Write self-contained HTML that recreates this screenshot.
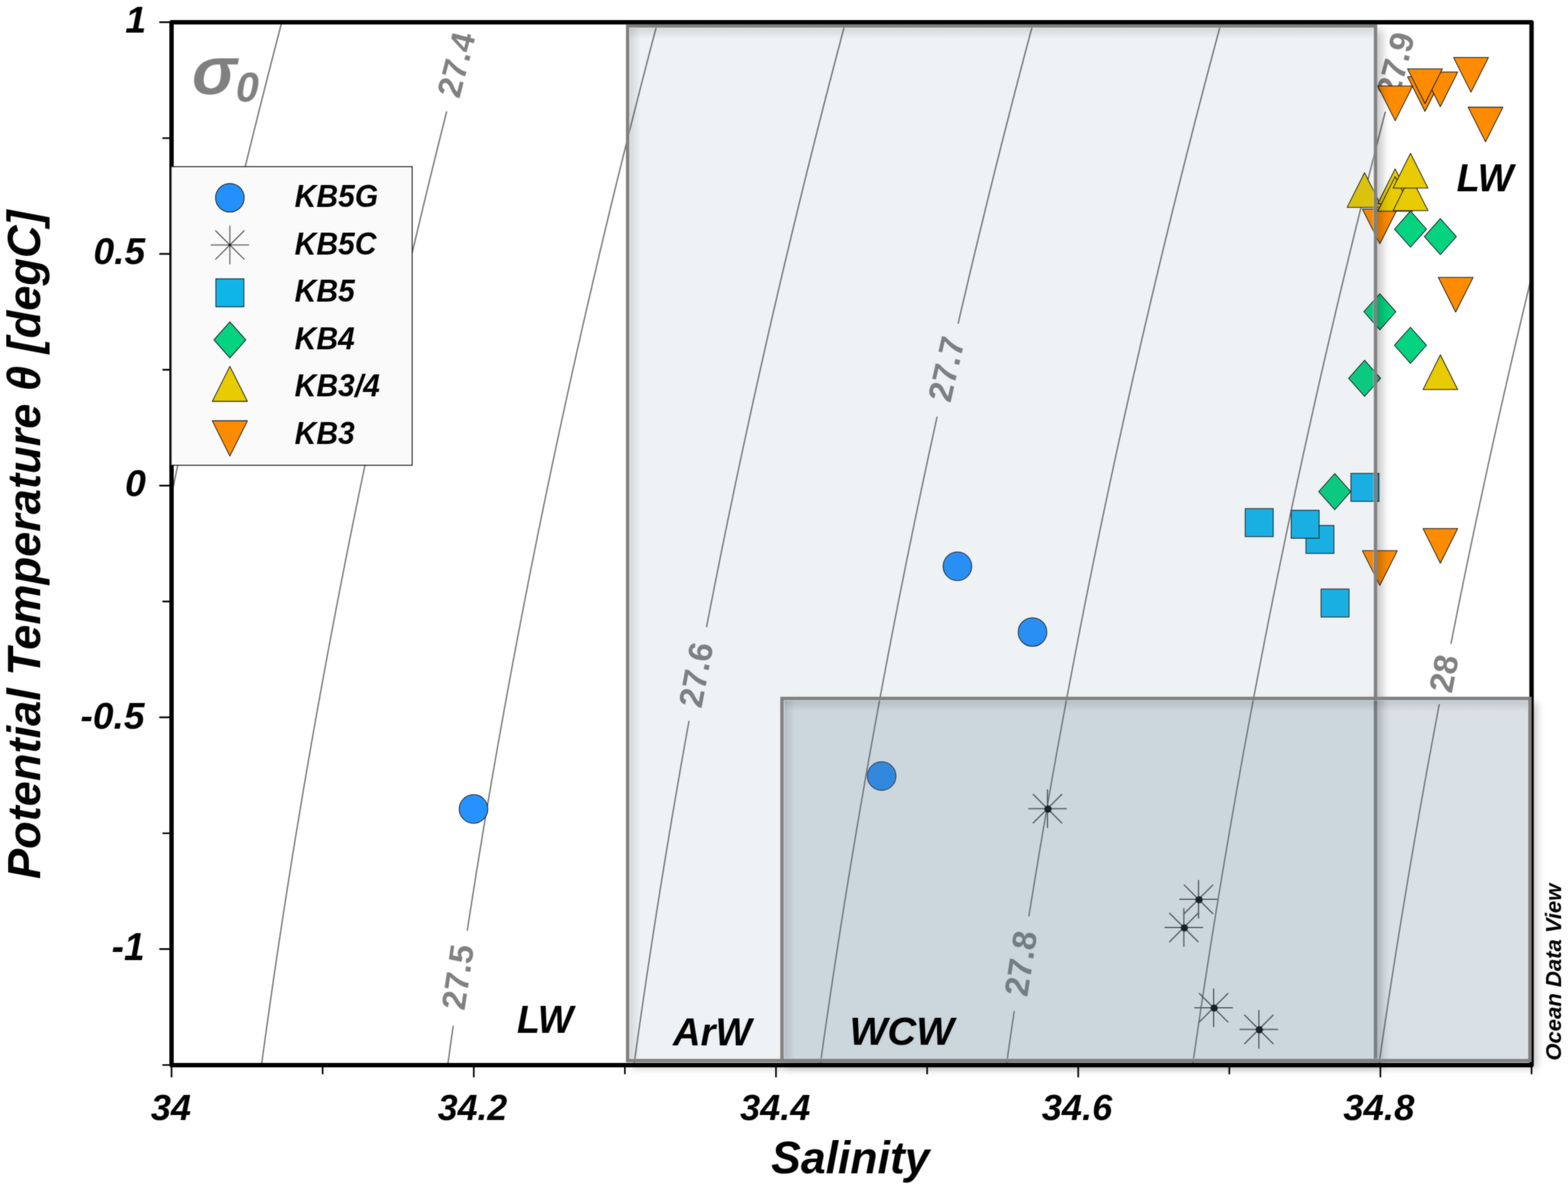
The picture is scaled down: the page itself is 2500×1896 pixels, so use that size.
<!DOCTYPE html>
<html><head><meta charset="utf-8"><title>Potential temperature vs salinity diagram</title>
<style>
html,body{margin:0;padding:0;background:#fff;width:2500px;height:1896px;overflow:hidden}
svg{position:absolute;left:0;top:0;display:block}
text{font-family:"Liberation Sans",Arial,Helvetica,sans-serif}
</style></head><body>
<svg width="2500" height="1896" viewBox="0 0 2500 1896" xmlns="http://www.w3.org/2000/svg">
<defs>
<clipPath id="plot"><rect x="273.5" y="35.4" width="2168.4" height="1663.1"/></clipPath>
<filter id="sblur" x="-20%" y="-20%" width="140%" height="140%"><feGaussianBlur stdDeviation="6.5"/></filter>
<linearGradient id="inL" x1="0" y1="0" x2="1" y2="0"><stop offset="0" stop-color="#000" stop-opacity="0.11"/><stop offset="0.45" stop-color="#000" stop-opacity="0.06"/><stop offset="1" stop-color="#000" stop-opacity="0"/></linearGradient>
<linearGradient id="inT" x1="0" y1="0" x2="0" y2="1"><stop offset="0" stop-color="#000" stop-opacity="0.11"/><stop offset="0.45" stop-color="#000" stop-opacity="0.06"/><stop offset="1" stop-color="#000" stop-opacity="0"/></linearGradient>

<mask id="mA" maskUnits="userSpaceOnUse" x="0" y="0" width="2500" height="1896"><rect x="0" y="0" width="2500" height="1896" fill="#fff"/><rect x="998.0" y="38.8" width="1197.8" height="1655.1" fill="#000"/></mask>
<mask id="mW" maskUnits="userSpaceOnUse" x="0" y="0" width="2500" height="1896"><rect x="0" y="0" width="2500" height="1896" fill="#fff"/><rect x="1244.1" y="1111.1" width="1197.9" height="582.8" fill="#000"/></mask>
<filter id="soft" x="0" y="0" width="2500" height="1896" filterUnits="userSpaceOnUse" color-interpolation-filters="sRGB"><feGaussianBlur in="SourceGraphic" stdDeviation="0.8" result="b"/><feComposite in="SourceGraphic" in2="b" operator="arithmetic" k1="0" k2="0.5" k3="0.5" k4="0"/></filter>
</defs>
<g filter="url(#soft)">
<rect x="0" y="0" width="2500" height="1896" fill="#fff"/>
<g clip-path="url(#plot)" fill="none" stroke="#767676" stroke-width="2.2">
<path d="M450.8,29.4 L450.0,32.4 L449.2,35.4 L448.5,38.4 L447.7,41.4 L446.9,44.4 L446.1,47.4 L445.3,50.4 L444.5,53.4 L443.8,56.4 L443.0,59.4 L442.2,62.4 L441.4,65.4 L440.7,68.4 L439.9,71.4 L439.1,74.4 L438.3,77.4 L437.5,80.4 L436.8,83.4 L436.0,86.4 L435.2,89.4 L434.5,92.4 L433.7,95.4 L432.9,98.4 L432.1,101.4 L431.4,104.4 L430.6,107.4 L429.8,110.4 L429.1,113.4 L428.3,116.4 L427.5,119.4 L426.8,122.4 L426.0,125.4 L425.2,128.4 L424.5,131.4 L423.7,134.4 L423.0,137.4 L422.2,140.4 L421.4,143.4 L420.7,146.4 L419.9,149.4 L419.2,152.4 L418.4,155.4 L417.6,158.4 L416.9,161.4 L416.1,164.4 L415.4,167.4 L414.6,170.4 L413.9,173.4 L413.1,176.4 L412.4,179.4 L411.6,182.4 L410.9,185.4 L410.1,188.4 L409.4,191.4 L408.6,194.4 L407.9,197.4 L407.1,200.4 L406.4,203.4 L405.6,206.4 L404.9,209.4 L404.1,212.4 L403.4,215.4 L402.6,218.4 L401.9,221.4 L401.2,224.4 L400.4,227.4 L399.7,230.4 L398.9,233.4 L398.2,236.4 L397.5,239.4 L396.7,242.4 L396.0,245.4 L395.2,248.4 L394.5,251.4 L393.8,254.4 L393.0,257.4 L392.3,260.4 L391.6,263.4 L390.8,266.4 L390.1,269.4 L389.4,272.4 L388.6,275.4 L387.9,278.4 L387.2,281.4 L386.5,284.4 L385.7,287.4 L385.0,290.4 L384.3,293.4 L383.6,296.4 L382.8,299.4 L382.1,302.4 L381.4,305.4 L380.7,308.4 L379.9,311.4 L379.2,314.4 L378.5,317.4 L377.8,320.4 L377.1,323.4 L376.3,326.4 L375.6,329.4 L374.9,332.4 L374.2,335.4 L373.5,338.4 L372.8,341.4 L372.0,344.4 L371.3,347.4 L370.6,350.4 L369.9,353.4 L369.2,356.4 L368.5,359.4 L367.8,362.4 L367.1,365.4 L366.3,368.4 L365.6,371.4 L364.9,374.4 L364.2,377.4 L363.5,380.4 L362.8,383.4 L362.1,386.4 L361.4,389.4 L360.7,392.4 L360.0,395.4 L359.3,398.4 L358.6,401.4 L357.9,404.4 L357.2,407.4 L356.5,410.4 L355.8,413.4 L355.1,416.4 L354.4,419.4 L353.7,422.4 L353.0,425.4 L352.3,428.4 L351.6,431.4 L350.9,434.4 L350.2,437.4 L349.5,440.4 L348.8,443.4 L348.1,446.4 L347.4,449.4 L346.8,452.4 L346.1,455.4 L345.4,458.4 L344.7,461.4 L344.0,464.4 L343.3,467.4 L342.6,470.4 L341.9,473.4 L341.3,476.4 L340.6,479.4 L339.9,482.4 L339.2,485.4 L338.5,488.4 L337.8,491.4 L337.2,494.4 L336.5,497.4 L335.8,500.4 L335.1,503.4 L334.5,506.4 L333.8,509.4 L333.1,512.4 L332.4,515.4 L331.7,518.4 L331.1,521.4 L330.4,524.4 L329.7,527.4 L329.1,530.4 L328.4,533.4 L327.7,536.4 L327.0,539.4 L326.4,542.4 L325.7,545.4 L325.0,548.4 L324.4,551.4 L323.7,554.4 L323.0,557.4 L322.4,560.4 L321.7,563.4 L321.0,566.4 L320.4,569.4 L319.7,572.4 L319.0,575.4 L318.4,578.4 L317.7,581.4 L317.1,584.4 L316.4,587.4 L315.7,590.4 L315.1,593.4 L314.4,596.4 L313.8,599.4 L313.1,602.4 L312.5,605.4 L311.8,608.4 L311.2,611.4 L310.5,614.4 L309.9,617.4 L309.2,620.4 L308.5,623.4 L307.9,626.4 L307.2,629.4 L306.6,632.4 L306.0,635.4 L305.3,638.4 L304.7,641.4 L304.0,644.4 L303.4,647.4 L302.7,650.4 L302.1,653.4 L301.4,656.4 L300.8,659.4 L300.1,662.4 L299.5,665.4 L298.9,668.4 L298.2,671.4 L297.6,674.4 L296.9,677.4 L296.3,680.4 L295.7,683.4 L295.0,686.4 L294.4,689.4 L293.8,692.4 L293.1,695.4 L292.5,698.4 L291.9,701.4 L291.2,704.4 L290.6,707.4 L290.0,710.4 L289.3,713.4 L288.7,716.4 L288.1,719.4 L287.4,722.4 L286.8,725.4 L286.2,728.4 L285.6,731.4 L284.9,734.4 L284.3,737.4 L283.7,740.4 L283.1,743.4 L282.4,746.4 L281.8,749.4 L281.2,752.4 L280.6,755.4 L280.0,758.4 L279.3,761.4 L278.7,764.4 L278.1,767.4 L277.5,770.4 L276.9,773.4 L276.3,776.4 L275.6,779.4 L275.0,782.4 L274.4,785.4 L273.8,788.4 L273.2,791.4 L272.6,794.4 L272.0,797.4 L271.4,800.4 L270.7,803.4 L270.1,806.4 L269.5,809.4 L268.9,812.4 L268.3,815.4 L267.7,818.4 L267.1,821.4 L266.5,824.4 L265.9,827.4 L265.3,830.4 L264.7,833.4 L264.1,836.4 L263.5,839.4 L262.9,842.4 L262.3,845.4 L261.7,848.4 L261.1,851.4 L260.5,854.4 L259.9,857.4 L259.3,860.4 L258.7,863.4 L258.1,866.4 L257.5,869.4 L256.9,872.4 L256.3,875.4 L255.7,878.4 L255.1,881.4 L254.5,884.4 L254.0,887.4 L253.4,890.4 L252.8,893.4 L252.2,896.4 L251.6,899.4 L251.0,902.4 L250.4,905.4 L249.8,908.4 L249.3,911.4 L248.7,914.4 L248.1,917.4 L247.5,920.4 L246.9,923.4 L246.3,926.4 L245.8,929.4 L245.2,932.4 L244.6,935.4 L244.0,938.4 L243.4,941.4 L242.9,944.4 L242.3,947.4 L241.7,950.4 L241.1,953.4 L240.6,956.4 L240.0,959.4 L239.4,962.4 L238.9,965.4 L238.3,968.4 L237.7,971.4 L237.1,974.4 L236.6,977.4 L236.0,980.4 L235.4,983.4 L234.9,986.4 L234.3,989.4 L233.7,992.4 L233.2,995.4 L232.6,998.4 L232.0,1001.4 L231.5,1004.4 L230.9,1007.4 L230.4,1010.4 L229.8,1013.4 L229.2,1016.4 L228.7,1019.4 L228.1,1022.4 L227.6,1025.4 L227.0,1028.4 L226.4,1031.4 L225.9,1034.4 L225.3,1037.4 L224.8,1040.4 L224.2,1043.4 L223.7,1046.4 L223.1,1049.4 L222.6,1052.4 L222.0,1055.4 L221.5,1058.4 L220.9,1061.4 L220.4,1064.4 L219.8,1067.4 L219.3,1070.4 L218.7,1073.4 L218.2,1076.4 L217.6,1079.4 L217.1,1082.4 L216.5,1085.4 L216.0,1088.4 L215.4,1091.4 L214.9,1094.4 L214.4,1097.4 L213.8,1100.4 L213.3,1103.4 L212.7,1106.4 L212.2,1109.4 L211.7,1112.4 L211.1,1115.4 L210.6,1118.4 L210.1,1121.4 L209.5,1124.4 L209.0,1127.4 L208.4,1130.4 L207.9,1133.4 L207.4,1136.4 L206.8,1139.4 L206.3,1142.4 L205.8,1145.4 L205.3,1148.4 L204.7,1151.4 L204.2,1154.4 L203.7,1157.4 L203.1,1160.4 L202.6,1163.4 L202.1,1166.4 L201.6,1169.4 L201.0,1172.4 L200.5,1175.4 L200.0,1178.4 L199.5,1181.4 L199.0,1184.4 L198.4,1187.4 L197.9,1190.4 L197.4,1193.4 L196.9,1196.4 L196.4,1199.4 L195.8,1202.4 L195.3,1205.4 L194.8,1208.4 L194.3,1211.4 L193.8,1214.4 L193.3,1217.4 L192.8,1220.4 L192.2,1223.4 L191.7,1226.4 L191.2,1229.4 L190.7,1232.4 L190.2,1235.4 L189.7,1238.4 L189.2,1241.4 L188.7,1244.4 L188.2,1247.4 L187.7,1250.4 L187.2,1253.4 L186.7,1256.4 L186.1,1259.4 L185.6,1262.4 L185.1,1265.4 L184.6,1268.4 L184.1,1271.4 L183.6,1274.4 L183.1,1277.4 L182.6,1280.4 L182.1,1283.4 L181.6,1286.4 L181.1,1289.4 L180.7,1292.4 L180.2,1295.4 L179.7,1298.4 L179.2,1301.4 L178.7,1304.4 L178.2,1307.4 L177.7,1310.4 L177.2,1313.4 L176.7,1316.4 L176.2,1319.4 L175.7,1322.4 L175.2,1325.4 L174.8,1328.4 L174.3,1331.4 L173.8,1334.4 L173.3,1337.4 L172.8,1340.4 L172.3,1343.4 L171.8,1346.4 L171.4,1349.4 L170.9,1352.4 L170.4,1355.4 L169.9,1358.4 L169.4,1361.4 L169.0,1364.4 L168.5,1367.4 L168.0,1370.4 L167.5,1373.4 L167.0,1376.4 L166.6,1379.4 L166.1,1382.4 L165.6,1385.4 L165.1,1388.4 L164.7,1391.4 L164.2,1394.4 L163.7,1397.4 L163.3,1400.4 L162.8,1403.4 L162.3,1406.4 L161.8,1409.4 L161.4,1412.4 L160.9,1415.4 L160.4,1418.4 L160.0,1421.4 L159.5,1424.4 L159.0,1427.4 L158.6,1430.4 L158.1,1433.4 L157.7,1436.4 L157.2,1439.4 L156.7,1442.4 L156.3,1445.4 L155.8,1448.4 L155.4,1451.4 L154.9,1454.4 L154.4,1457.4 L154.0,1460.4 L153.5,1463.4 L153.1,1466.4 L152.6,1469.4 L152.2,1472.4 L151.7,1475.4 L151.3,1478.4 L150.8,1481.4 L150.4,1484.4 L149.9,1487.4 L149.5,1490.4 L149.0,1493.4 L148.6,1496.4 L148.1,1499.4 L147.7,1502.4 L147.2,1505.4 L146.8,1508.4 L146.3,1511.4 L145.9,1514.4 L145.4,1517.4 L145.0,1520.4 L144.6,1523.4 L144.1,1526.4 L143.7,1529.4 L143.2,1532.4 L142.8,1535.4 L142.4,1538.4 L141.9,1541.4 L141.5,1544.4 L141.0,1547.4 L140.6,1550.4 L140.2,1553.4 L139.7,1556.4 L139.3,1559.4 L138.9,1562.4 L138.4,1565.4 L138.0,1568.4 L137.6,1571.4 L137.1,1574.4 L136.7,1577.4 L136.3,1580.4 L135.9,1583.4 L135.4,1586.4 L135.0,1589.4 L134.6,1592.4 L134.2,1595.4 L133.7,1598.4 L133.3,1601.4 L132.9,1604.4 L132.5,1607.4 L132.0,1610.4 L131.6,1613.4 L131.2,1616.4 L130.8,1619.4 L130.4,1622.4 L129.9,1625.4 L129.5,1628.4 L129.1,1631.4 L128.7,1634.4 L128.3,1637.4 L127.9,1640.4 L127.5,1643.4 L127.0,1646.4 L126.6,1649.4 L126.2,1652.4 L125.8,1655.4 L125.4,1658.4 L125.0,1661.4 L124.6,1664.4 L124.2,1667.4 L123.8,1670.4 L123.4,1673.4 L122.9,1676.4 L122.5,1679.4 L122.1,1682.4 L121.7,1685.4 L121.3,1688.4 L120.9,1691.4 L120.5,1694.4 L120.1,1697.4 L119.7,1700.4 L119.3,1703.4"/>
<path d="M712.2,177.4 L711.7,179.4 L711.0,182.4 L710.2,185.4 L709.5,188.4 L708.7,191.4 L708.0,194.4 L707.2,197.4 L706.5,200.4 L705.7,203.4 L705.0,206.4 L704.2,209.4 L703.5,212.4 L702.7,215.4 L702.0,218.4 L701.2,221.4 L700.5,224.4 L699.7,227.4 L699.0,230.4 L698.2,233.4 L697.5,236.4 L696.7,239.4 L696.0,242.4 L695.3,245.4 L694.5,248.4 L693.8,251.4 L693.0,254.4 L692.3,257.4 L691.6,260.4 L690.8,263.4 L690.1,266.4 L689.3,269.4 L688.6,272.4 L687.9,275.4 L687.1,278.4 L686.4,281.4 L685.7,284.4 L684.9,287.4 L684.2,290.4 L683.5,293.4 L682.8,296.4 L682.0,299.4 L681.3,302.4 L680.6,305.4 L679.8,308.4 L679.1,311.4 L678.4,314.4 L677.7,317.4 L676.9,320.4 L676.2,323.4 L675.5,326.4 L674.8,329.4 L674.0,332.4 L673.3,335.4 L672.6,338.4 L671.9,341.4 L671.2,344.4 L670.4,347.4 L669.7,350.4 L669.0,353.4 L668.3,356.4 L667.6,359.4 L666.9,362.4 L666.1,365.4 L665.4,368.4 L664.7,371.4 L664.0,374.4 L663.3,377.4 L662.6,380.4 L661.9,383.4 L661.2,386.4 L660.4,389.4 L659.7,392.4 L659.0,395.4 L658.3,398.4 L657.6,401.4 L656.9,404.4 L656.2,407.4 L655.5,410.4 L654.8,413.4 L654.1,416.4 L653.4,419.4 L652.7,422.4 L652.0,425.4 L651.3,428.4 L650.6,431.4 L649.9,434.4 L649.2,437.4 L648.5,440.4 L647.8,443.4 L647.1,446.4 L646.4,449.4 L645.7,452.4 L645.0,455.4 L644.3,458.4 L643.6,461.4 L642.9,464.4 L642.2,467.4 L641.6,470.4 L640.9,473.4 L640.2,476.4 L639.5,479.4 L638.8,482.4 L638.1,485.4 L637.4,488.4 L636.7,491.4 L636.1,494.4 L635.4,497.4 L634.7,500.4 L634.0,503.4 L633.3,506.4 L632.6,509.4 L632.0,512.4 L631.3,515.4 L630.6,518.4 L629.9,521.4 L629.2,524.4 L628.6,527.4 L627.9,530.4 L627.2,533.4 L626.5,536.4 L625.9,539.4 L625.2,542.4 L624.5,545.4 L623.8,548.4 L623.2,551.4 L622.5,554.4 L621.8,557.4 L621.1,560.4 L620.5,563.4 L619.8,566.4 L619.1,569.4 L618.5,572.4 L617.8,575.4 L617.1,578.4 L616.5,581.4 L615.8,584.4 L615.1,587.4 L614.5,590.4 L613.8,593.4 L613.2,596.4 L612.5,599.4 L611.8,602.4 L611.2,605.4 L610.5,608.4 L609.9,611.4 L609.2,614.4 L608.5,617.4 L607.9,620.4 L607.2,623.4 L606.6,626.4 L605.9,629.4 L605.3,632.4 L604.6,635.4 L604.0,638.4 L603.3,641.4 L602.7,644.4 L602.0,647.4 L601.4,650.4 L600.7,653.4 L600.1,656.4 L599.4,659.4 L598.8,662.4 L598.1,665.4 L597.5,668.4 L596.8,671.4 L596.2,674.4 L595.5,677.4 L594.9,680.4 L594.3,683.4 L593.6,686.4 L593.0,689.4 L592.3,692.4 L591.7,695.4 L591.1,698.4 L590.4,701.4 L589.8,704.4 L589.1,707.4 L588.5,710.4 L587.9,713.4 L587.2,716.4 L586.6,719.4 L586.0,722.4 L585.3,725.4 L584.7,728.4 L584.1,731.4 L583.4,734.4 L582.8,737.4 L582.2,740.4 L581.6,743.4 L580.9,746.4 L580.3,749.4 L579.7,752.4 L579.1,755.4 L578.4,758.4 L577.8,761.4 L577.2,764.4 L576.6,767.4 L575.9,770.4 L575.3,773.4 L574.7,776.4 L574.1,779.4 L573.5,782.4 L572.8,785.4 L572.2,788.4 L571.6,791.4 L571.0,794.4 L570.4,797.4 L569.8,800.4 L569.1,803.4 L568.5,806.4 L567.9,809.4 L567.3,812.4 L566.7,815.4 L566.1,818.4 L565.5,821.4 L564.9,824.4 L564.3,827.4 L563.6,830.4 L563.0,833.4 L562.4,836.4 L561.8,839.4 L561.2,842.4 L560.6,845.4 L560.0,848.4 L559.4,851.4 L558.8,854.4 L558.2,857.4 L557.6,860.4 L557.0,863.4 L556.4,866.4 L555.8,869.4 L555.2,872.4 L554.6,875.4 L554.0,878.4 L553.4,881.4 L552.8,884.4 L552.2,887.4 L551.6,890.4 L551.0,893.4 L550.4,896.4 L549.8,899.4 L549.3,902.4 L548.7,905.4 L548.1,908.4 L547.5,911.4 L546.9,914.4 L546.3,917.4 L545.7,920.4 L545.1,923.4 L544.5,926.4 L544.0,929.4 L543.4,932.4 L542.8,935.4 L542.2,938.4 L541.6,941.4 L541.0,944.4 L540.5,947.4 L539.9,950.4 L539.3,953.4 L538.7,956.4 L538.1,959.4 L537.6,962.4 L537.0,965.4 L536.4,968.4 L535.8,971.4 L535.3,974.4 L534.7,977.4 L534.1,980.4 L533.5,983.4 L533.0,986.4 L532.4,989.4 L531.8,992.4 L531.3,995.4 L530.7,998.4 L530.1,1001.4 L529.5,1004.4 L529.0,1007.4 L528.4,1010.4 L527.8,1013.4 L527.3,1016.4 L526.7,1019.4 L526.2,1022.4 L525.6,1025.4 L525.0,1028.4 L524.5,1031.4 L523.9,1034.4 L523.3,1037.4 L522.8,1040.4 L522.2,1043.4 L521.7,1046.4 L521.1,1049.4 L520.6,1052.4 L520.0,1055.4 L519.4,1058.4 L518.9,1061.4 L518.3,1064.4 L517.8,1067.4 L517.2,1070.4 L516.7,1073.4 L516.1,1076.4 L515.6,1079.4 L515.0,1082.4 L514.5,1085.4 L513.9,1088.4 L513.4,1091.4 L512.8,1094.4 L512.3,1097.4 L511.7,1100.4 L511.2,1103.4 L510.6,1106.4 L510.1,1109.4 L509.6,1112.4 L509.0,1115.4 L508.5,1118.4 L507.9,1121.4 L507.4,1124.4 L506.9,1127.4 L506.3,1130.4 L505.8,1133.4 L505.2,1136.4 L504.7,1139.4 L504.2,1142.4 L503.6,1145.4 L503.1,1148.4 L502.6,1151.4 L502.0,1154.4 L501.5,1157.4 L501.0,1160.4 L500.4,1163.4 L499.9,1166.4 L499.4,1169.4 L498.8,1172.4 L498.3,1175.4 L497.8,1178.4 L497.3,1181.4 L496.7,1184.4 L496.2,1187.4 L495.7,1190.4 L495.2,1193.4 L494.6,1196.4 L494.1,1199.4 L493.6,1202.4 L493.1,1205.4 L492.6,1208.4 L492.0,1211.4 L491.5,1214.4 L491.0,1217.4 L490.5,1220.4 L490.0,1223.4 L489.4,1226.4 L488.9,1229.4 L488.4,1232.4 L487.9,1235.4 L487.4,1238.4 L486.9,1241.4 L486.4,1244.4 L485.9,1247.4 L485.3,1250.4 L484.8,1253.4 L484.3,1256.4 L483.8,1259.4 L483.3,1262.4 L482.8,1265.4 L482.3,1268.4 L481.8,1271.4 L481.3,1274.4 L480.8,1277.4 L480.3,1280.4 L479.8,1283.4 L479.3,1286.4 L478.8,1289.4 L478.3,1292.4 L477.8,1295.4 L477.3,1298.4 L476.8,1301.4 L476.3,1304.4 L475.8,1307.4 L475.3,1310.4 L474.8,1313.4 L474.3,1316.4 L473.8,1319.4 L473.3,1322.4 L472.8,1325.4 L472.3,1328.4 L471.8,1331.4 L471.3,1334.4 L470.8,1337.4 L470.3,1340.4 L469.8,1343.4 L469.4,1346.4 L468.9,1349.4 L468.4,1352.4 L467.9,1355.4 L467.4,1358.4 L466.9,1361.4 L466.4,1364.4 L466.0,1367.4 L465.5,1370.4 L465.0,1373.4 L464.5,1376.4 L464.0,1379.4 L463.6,1382.4 L463.1,1385.4 L462.6,1388.4 L462.1,1391.4 L461.6,1394.4 L461.2,1397.4 L460.7,1400.4 L460.2,1403.4 L459.7,1406.4 L459.3,1409.4 L458.8,1412.4 L458.3,1415.4 L457.8,1418.4 L457.4,1421.4 L456.9,1424.4 L456.4,1427.4 L456.0,1430.4 L455.5,1433.4 L455.0,1436.4 L454.6,1439.4 L454.1,1442.4 L453.6,1445.4 L453.2,1448.4 L452.7,1451.4 L452.2,1454.4 L451.8,1457.4 L451.3,1460.4 L450.9,1463.4 L450.4,1466.4 L449.9,1469.4 L449.5,1472.4 L449.0,1475.4 L448.6,1478.4 L448.1,1481.4 L447.7,1484.4 L447.2,1487.4 L446.7,1490.4 L446.3,1493.4 L445.8,1496.4 L445.4,1499.4 L444.9,1502.4 L444.5,1505.4 L444.0,1508.4 L443.6,1511.4 L443.1,1514.4 L442.7,1517.4 L442.2,1520.4 L441.8,1523.4 L441.3,1526.4 L440.9,1529.4 L440.4,1532.4 L440.0,1535.4 L439.6,1538.4 L439.1,1541.4 L438.7,1544.4 L438.2,1547.4 L437.8,1550.4 L437.4,1553.4 L436.9,1556.4 L436.5,1559.4 L436.0,1562.4 L435.6,1565.4 L435.2,1568.4 L434.7,1571.4 L434.3,1574.4 L433.9,1577.4 L433.4,1580.4 L433.0,1583.4 L432.6,1586.4 L432.1,1589.4 L431.7,1592.4 L431.3,1595.4 L430.8,1598.4 L430.4,1601.4 L430.0,1604.4 L429.6,1607.4 L429.1,1610.4 L428.7,1613.4 L428.3,1616.4 L427.9,1619.4 L427.4,1622.4 L427.0,1625.4 L426.6,1628.4 L426.2,1631.4 L425.7,1634.4 L425.3,1637.4 L424.9,1640.4 L424.5,1643.4 L424.1,1646.4 L423.7,1649.4 L423.2,1652.4 L422.8,1655.4 L422.4,1658.4 L422.0,1661.4 L421.6,1664.4 L421.2,1667.4 L420.7,1670.4 L420.3,1673.4 L419.9,1676.4 L419.5,1679.4 L419.1,1682.4 L418.7,1685.4 L418.3,1688.4 L417.9,1691.4 L417.5,1694.4 L417.1,1697.4 L416.7,1700.4 L416.3,1703.4"/>
<path d="M1050.0,29.4 L1049.2,32.4 L1048.4,35.4 L1047.6,38.4 L1046.8,41.4 L1046.0,44.4 L1045.3,47.4 L1044.5,50.4 L1043.7,53.4 L1042.9,56.4 L1042.1,59.4 L1041.3,62.4 L1040.5,65.4 L1039.7,68.4 L1039.0,71.4 L1038.2,74.4 L1037.4,77.4 L1036.6,80.4 L1035.8,83.4 L1035.0,86.4 L1034.2,89.4 L1033.5,92.4 L1032.7,95.4 L1031.9,98.4 L1031.1,101.4 L1030.3,104.4 L1029.6,107.4 L1028.8,110.4 L1028.0,113.4 L1027.2,116.4 L1026.5,119.4 L1025.7,122.4 L1024.9,125.4 L1024.1,128.4 L1023.4,131.4 L1022.6,134.4 L1021.8,137.4 L1021.1,140.4 L1020.3,143.4 L1019.5,146.4 L1018.8,149.4 L1018.0,152.4 L1017.2,155.4 L1016.5,158.4 L1015.7,161.4 L1014.9,164.4 L1014.2,167.4 L1013.4,170.4 L1012.6,173.4 L1011.9,176.4 L1011.1,179.4 L1010.3,182.4 L1009.6,185.4 L1008.8,188.4 L1008.1,191.4 L1007.3,194.4 L1006.6,197.4 L1005.8,200.4 L1005.0,203.4 L1004.3,206.4 L1003.5,209.4 L1002.8,212.4 L1002.0,215.4 L1001.3,218.4 L1000.5,221.4 L999.8,224.4 L999.0,227.4 L998.3,230.4 L997.5,233.4 L996.8,236.4 L996.0,239.4 L995.3,242.4 L994.5,245.4 L993.8,248.4 L993.0,251.4 L992.3,254.4 L991.5,257.4 L990.8,260.4 L990.1,263.4 L989.3,266.4 L988.6,269.4 L987.8,272.4 L987.1,275.4 L986.4,278.4 L985.6,281.4 L984.9,284.4 L984.1,287.4 L983.4,290.4 L982.7,293.4 L981.9,296.4 L981.2,299.4 L980.5,302.4 L979.7,305.4 L979.0,308.4 L978.3,311.4 L977.5,314.4 L976.8,317.4 L976.1,320.4 L975.3,323.4 L974.6,326.4 L973.9,329.4 L973.2,332.4 L972.4,335.4 L971.7,338.4 L971.0,341.4 L970.3,344.4 L969.5,347.4 L968.8,350.4 L968.1,353.4 L967.4,356.4 L966.7,359.4 L965.9,362.4 L965.2,365.4 L964.5,368.4 L963.8,371.4 L963.1,374.4 L962.3,377.4 L961.6,380.4 L960.9,383.4 L960.2,386.4 L959.5,389.4 L958.8,392.4 L958.1,395.4 L957.3,398.4 L956.6,401.4 L955.9,404.4 L955.2,407.4 L954.5,410.4 L953.8,413.4 L953.1,416.4 L952.4,419.4 L951.7,422.4 L951.0,425.4 L950.3,428.4 L949.6,431.4 L948.9,434.4 L948.2,437.4 L947.5,440.4 L946.7,443.4 L946.0,446.4 L945.3,449.4 L944.6,452.4 L944.0,455.4 L943.3,458.4 L942.6,461.4 L941.9,464.4 L941.2,467.4 L940.5,470.4 L939.8,473.4 L939.1,476.4 L938.4,479.4 L937.7,482.4 L937.0,485.4 L936.3,488.4 L935.6,491.4 L934.9,494.4 L934.2,497.4 L933.5,500.4 L932.9,503.4 L932.2,506.4 L931.5,509.4 L930.8,512.4 L930.1,515.4 L929.4,518.4 L928.7,521.4 L928.1,524.4 L927.4,527.4 L926.7,530.4 L926.0,533.4 L925.3,536.4 L924.7,539.4 L924.0,542.4 L923.3,545.4 L922.6,548.4 L921.9,551.4 L921.3,554.4 L920.6,557.4 L919.9,560.4 L919.2,563.4 L918.6,566.4 L917.9,569.4 L917.2,572.4 L916.6,575.4 L915.9,578.4 L915.2,581.4 L914.5,584.4 L913.9,587.4 L913.2,590.4 L912.5,593.4 L911.9,596.4 L911.2,599.4 L910.5,602.4 L909.9,605.4 L909.2,608.4 L908.5,611.4 L907.9,614.4 L907.2,617.4 L906.6,620.4 L905.9,623.4 L905.2,626.4 L904.6,629.4 L903.9,632.4 L903.3,635.4 L902.6,638.4 L902.0,641.4 L901.3,644.4 L900.6,647.4 L900.0,650.4 L899.3,653.4 L898.7,656.4 L898.0,659.4 L897.4,662.4 L896.7,665.4 L896.1,668.4 L895.4,671.4 L894.8,674.4 L894.1,677.4 L893.5,680.4 L892.8,683.4 L892.2,686.4 L891.5,689.4 L890.9,692.4 L890.3,695.4 L889.6,698.4 L889.0,701.4 L888.3,704.4 L887.7,707.4 L887.0,710.4 L886.4,713.4 L885.8,716.4 L885.1,719.4 L884.5,722.4 L883.9,725.4 L883.2,728.4 L882.6,731.4 L881.9,734.4 L881.3,737.4 L880.7,740.4 L880.0,743.4 L879.4,746.4 L878.8,749.4 L878.1,752.4 L877.5,755.4 L876.9,758.4 L876.3,761.4 L875.6,764.4 L875.0,767.4 L874.4,770.4 L873.8,773.4 L873.1,776.4 L872.5,779.4 L871.9,782.4 L871.3,785.4 L870.6,788.4 L870.0,791.4 L869.4,794.4 L868.8,797.4 L868.1,800.4 L867.5,803.4 L866.9,806.4 L866.3,809.4 L865.7,812.4 L865.1,815.4 L864.4,818.4 L863.8,821.4 L863.2,824.4 L862.6,827.4 L862.0,830.4 L861.4,833.4 L860.8,836.4 L860.2,839.4 L859.5,842.4 L858.9,845.4 L858.3,848.4 L857.7,851.4 L857.1,854.4 L856.5,857.4 L855.9,860.4 L855.3,863.4 L854.7,866.4 L854.1,869.4 L853.5,872.4 L852.9,875.4 L852.3,878.4 L851.7,881.4 L851.1,884.4 L850.5,887.4 L849.9,890.4 L849.3,893.4 L848.7,896.4 L848.1,899.4 L847.5,902.4 L846.9,905.4 L846.3,908.4 L845.7,911.4 L845.1,914.4 L844.5,917.4 L843.9,920.4 L843.3,923.4 L842.7,926.4 L842.1,929.4 L841.6,932.4 L841.0,935.4 L840.4,938.4 L839.8,941.4 L839.2,944.4 L838.6,947.4 L838.0,950.4 L837.4,953.4 L836.9,956.4 L836.3,959.4 L835.7,962.4 L835.1,965.4 L834.5,968.4 L834.0,971.4 L833.4,974.4 L832.8,977.4 L832.2,980.4 L831.6,983.4 L831.1,986.4 L830.5,989.4 L829.9,992.4 L829.3,995.4 L828.8,998.4 L828.2,1001.4 L827.6,1004.4 L827.0,1007.4 L826.5,1010.4 L825.9,1013.4 L825.3,1016.4 L824.8,1019.4 L824.2,1022.4 L823.6,1025.4 L823.1,1028.4 L822.5,1031.4 L821.9,1034.4 L821.4,1037.4 L820.8,1040.4 L820.2,1043.4 L819.7,1046.4 L819.1,1049.4 L818.5,1052.4 L818.0,1055.4 L817.4,1058.4 L816.9,1061.4 L816.3,1064.4 L815.7,1067.4 L815.2,1070.4 L814.6,1073.4 L814.1,1076.4 L813.5,1079.4 L813.0,1082.4 L812.4,1085.4 L811.9,1088.4 L811.3,1091.4 L810.8,1094.4 L810.2,1097.4 L809.6,1100.4 L809.1,1103.4 L808.5,1106.4 L808.0,1109.4 L807.5,1112.4 L806.9,1115.4 L806.4,1118.4 L805.8,1121.4 L805.3,1124.4 L804.7,1127.4 L804.2,1130.4 L803.6,1133.4 L803.1,1136.4 L802.6,1139.4 L802.0,1142.4 L801.5,1145.4 L800.9,1148.4 L800.4,1151.4 L799.9,1154.4 L799.3,1157.4 L798.8,1160.4 L798.2,1163.4 L797.7,1166.4 L797.2,1169.4 L796.6,1172.4 L796.1,1175.4 L795.6,1178.4 L795.0,1181.4 L794.5,1184.4 L794.0,1187.4 L793.5,1190.4 L792.9,1193.4 L792.4,1196.4 L791.9,1199.4 L791.3,1202.4 L790.8,1205.4 L790.3,1208.4 L789.8,1211.4 L789.2,1214.4 L788.7,1217.4 L788.2,1220.4 L787.7,1223.4 L787.2,1226.4 L786.6,1229.4 L786.1,1232.4 L785.6,1235.4 L785.1,1238.4 L784.6,1241.4 L784.0,1244.4 L783.5,1247.4 L783.0,1250.4 L782.5,1253.4 L782.0,1256.4 L781.5,1259.4 L781.0,1262.4 L780.4,1265.4 L779.9,1268.4 L779.4,1271.4 L778.9,1274.4 L778.4,1277.4 L777.9,1280.4 L777.4,1283.4 L776.9,1286.4 L776.4,1289.4 L775.9,1292.4 L775.4,1295.4 L774.8,1298.4 L774.3,1301.4 L773.8,1304.4 L773.3,1307.4 L772.8,1310.4 L772.3,1313.4 L771.8,1316.4 L771.3,1319.4 L770.8,1322.4 L770.3,1325.4 L769.8,1328.4 L769.3,1331.4 L768.8,1334.4 L768.4,1337.4 L767.9,1340.4 L767.4,1343.4 L766.9,1346.4 L766.4,1349.4 L765.9,1352.4 L765.4,1355.4 L764.9,1358.4 L764.4,1361.4 L763.9,1364.4 L763.4,1367.4 L763.0,1370.4 L762.5,1373.4 L762.0,1376.4 L761.5,1379.4 L761.0,1382.4 L760.5,1385.4 L760.0,1388.4 L759.6,1391.4 L759.1,1394.4 L758.6,1397.4 L758.1,1400.4 L757.6,1403.4 L757.2,1406.4 L756.7,1409.4 L756.2,1412.4 L755.7,1415.4 L755.2,1418.4 L754.8,1421.4 L754.3,1424.4 L753.8,1427.4 L753.3,1430.4 L752.9,1433.4 L752.4,1436.4 L751.9,1439.4 L751.5,1442.4 L751.0,1445.4 L750.5,1448.4 L750.0,1451.4 L749.6,1454.4 L749.1,1457.4 L748.6,1460.4 L748.2,1463.4 L747.7,1466.4 L747.2,1469.4 L746.8,1472.4 L746.3,1475.4 L745.9,1478.4 L745.4,1481.4 L745.0,1484.1"/>
<path d="M722.6,1635.5 L722.4,1637.4 L721.9,1640.4 L721.5,1643.4 L721.1,1646.4 L720.7,1649.4 L720.2,1652.4 L719.8,1655.4 L719.4,1658.4 L719.0,1661.4 L718.6,1664.4 L718.1,1667.4 L717.7,1670.4 L717.3,1673.4 L716.9,1676.4 L716.5,1679.4 L716.1,1682.4 L715.7,1685.4 L715.2,1688.4 L714.8,1691.4 L714.4,1694.4 L714.0,1697.4 L713.6,1700.4 L713.2,1703.4"/>
<path d="M1349.6,29.4 L1348.8,32.4 L1348.0,35.4 L1347.2,38.4 L1346.4,41.4 L1345.6,44.4 L1344.8,47.4 L1344.0,50.4 L1343.2,53.4 L1342.4,56.4 L1341.6,59.4 L1340.8,62.4 L1340.1,65.4 L1339.3,68.4 L1338.5,71.4 L1337.7,74.4 L1336.9,77.4 L1336.1,80.4 L1335.3,83.4 L1334.5,86.4 L1333.7,89.4 L1333.0,92.4 L1332.2,95.4 L1331.4,98.4 L1330.6,101.4 L1329.8,104.4 L1329.0,107.4 L1328.3,110.4 L1327.5,113.4 L1326.7,116.4 L1325.9,119.4 L1325.1,122.4 L1324.4,125.4 L1323.6,128.4 L1322.8,131.4 L1322.0,134.4 L1321.2,137.4 L1320.5,140.4 L1319.7,143.4 L1318.9,146.4 L1318.2,149.4 L1317.4,152.4 L1316.6,155.4 L1315.8,158.4 L1315.1,161.4 L1314.3,164.4 L1313.5,167.4 L1312.8,170.4 L1312.0,173.4 L1311.2,176.4 L1310.5,179.4 L1309.7,182.4 L1308.9,185.4 L1308.2,188.4 L1307.4,191.4 L1306.6,194.4 L1305.9,197.4 L1305.1,200.4 L1304.4,203.4 L1303.6,206.4 L1302.8,209.4 L1302.1,212.4 L1301.3,215.4 L1300.6,218.4 L1299.8,221.4 L1299.0,224.4 L1298.3,227.4 L1297.5,230.4 L1296.8,233.4 L1296.0,236.4 L1295.3,239.4 L1294.5,242.4 L1293.8,245.4 L1293.0,248.4 L1292.3,251.4 L1291.5,254.4 L1290.8,257.4 L1290.0,260.4 L1289.3,263.4 L1288.5,266.4 L1287.8,269.4 L1287.0,272.4 L1286.3,275.4 L1285.6,278.4 L1284.8,281.4 L1284.1,284.4 L1283.3,287.4 L1282.6,290.4 L1281.8,293.4 L1281.1,296.4 L1280.4,299.4 L1279.6,302.4 L1278.9,305.4 L1278.2,308.4 L1277.4,311.4 L1276.7,314.4 L1275.9,317.4 L1275.2,320.4 L1274.5,323.4 L1273.7,326.4 L1273.0,329.4 L1272.3,332.4 L1271.6,335.4 L1270.8,338.4 L1270.1,341.4 L1269.4,344.4 L1268.6,347.4 L1267.9,350.4 L1267.2,353.4 L1266.5,356.4 L1265.7,359.4 L1265.0,362.4 L1264.3,365.4 L1263.6,368.4 L1262.8,371.4 L1262.1,374.4 L1261.4,377.4 L1260.7,380.4 L1260.0,383.4 L1259.2,386.4 L1258.5,389.4 L1257.8,392.4 L1257.1,395.4 L1256.4,398.4 L1255.6,401.4 L1254.9,404.4 L1254.2,407.4 L1253.5,410.4 L1252.8,413.4 L1252.1,416.4 L1251.4,419.4 L1250.7,422.4 L1249.9,425.4 L1249.2,428.4 L1248.5,431.4 L1247.8,434.4 L1247.1,437.4 L1246.4,440.4 L1245.7,443.4 L1245.0,446.4 L1244.3,449.4 L1243.6,452.4 L1242.9,455.4 L1242.2,458.4 L1241.5,461.4 L1240.8,464.4 L1240.1,467.4 L1239.4,470.4 L1238.7,473.4 L1238.0,476.4 L1237.3,479.4 L1236.6,482.4 L1235.9,485.4 L1235.2,488.4 L1234.5,491.4 L1233.8,494.4 L1233.1,497.4 L1232.4,500.4 L1231.7,503.4 L1231.0,506.4 L1230.3,509.4 L1229.6,512.4 L1228.9,515.4 L1228.3,518.4 L1227.6,521.4 L1226.9,524.4 L1226.2,527.4 L1225.5,530.4 L1224.8,533.4 L1224.1,536.4 L1223.5,539.4 L1222.8,542.4 L1222.1,545.4 L1221.4,548.4 L1220.7,551.4 L1220.0,554.4 L1219.4,557.4 L1218.7,560.4 L1218.0,563.4 L1217.3,566.4 L1216.6,569.4 L1216.0,572.4 L1215.3,575.4 L1214.6,578.4 L1213.9,581.4 L1213.3,584.4 L1212.6,587.4 L1211.9,590.4 L1211.2,593.4 L1210.6,596.4 L1209.9,599.4 L1209.2,602.4 L1208.6,605.4 L1207.9,608.4 L1207.2,611.4 L1206.6,614.4 L1205.9,617.4 L1205.2,620.4 L1204.6,623.4 L1203.9,626.4 L1203.2,629.4 L1202.6,632.4 L1201.9,635.4 L1201.2,638.4 L1200.6,641.4 L1199.9,644.4 L1199.3,647.4 L1198.6,650.4 L1197.9,653.4 L1197.3,656.4 L1196.6,659.4 L1196.0,662.4 L1195.3,665.4 L1194.7,668.4 L1194.0,671.4 L1193.4,674.4 L1192.7,677.4 L1192.1,680.4 L1191.4,683.4 L1190.8,686.4 L1190.1,689.4 L1189.5,692.4 L1188.8,695.4 L1188.2,698.4 L1187.5,701.4 L1186.9,704.4 L1186.2,707.4 L1185.6,710.4 L1184.9,713.4 L1184.3,716.4 L1183.6,719.4 L1183.0,722.4 L1182.4,725.4 L1181.7,728.4 L1181.1,731.4 L1180.4,734.4 L1179.8,737.4 L1179.2,740.4 L1178.5,743.4 L1177.9,746.4 L1177.2,749.4 L1176.6,752.4 L1176.0,755.4 L1175.3,758.4 L1174.7,761.4 L1174.1,764.4 L1173.4,767.4 L1172.8,770.4 L1172.2,773.4 L1171.5,776.4 L1170.9,779.4 L1170.3,782.4 L1169.7,785.4 L1169.0,788.4 L1168.4,791.4 L1167.8,794.4 L1167.2,797.4 L1166.5,800.4 L1165.9,803.4 L1165.3,806.4 L1164.7,809.4 L1164.0,812.4 L1163.4,815.4 L1162.8,818.4 L1162.2,821.4 L1161.6,824.4 L1160.9,827.4 L1160.3,830.4 L1159.7,833.4 L1159.1,836.4 L1158.5,839.4 L1157.9,842.4 L1157.2,845.4 L1156.6,848.4 L1156.0,851.4 L1155.4,854.4 L1154.8,857.4 L1154.2,860.4 L1153.6,863.4 L1153.0,866.4 L1152.3,869.4 L1151.7,872.4 L1151.1,875.4 L1150.5,878.4 L1149.9,881.4 L1149.3,884.4 L1148.7,887.4 L1148.1,890.4 L1147.5,893.4 L1146.9,896.4 L1146.3,899.4 L1145.7,902.4 L1145.1,905.4 L1144.5,908.4 L1143.9,911.4 L1143.3,914.4 L1142.7,917.4 L1142.1,920.4 L1141.5,923.4 L1140.9,926.4 L1140.3,929.4 L1139.7,932.4 L1139.1,935.4 L1138.5,938.4 L1137.9,941.4 L1137.4,944.4 L1136.8,947.4 L1136.2,950.4 L1135.6,953.4 L1135.0,956.4 L1134.4,959.4 L1133.8,962.4 L1133.2,965.4 L1132.6,968.4 L1132.1,971.4 L1131.5,974.4 L1130.9,977.4 L1130.3,980.4 L1129.7,983.4 L1129.1,986.4 L1128.6,989.4 L1128.0,992.4 L1127.4,995.4 L1126.8,998.4 L1126.5,1000.0"/>
<path d="M1098.6,1149.5 L1098.2,1151.4 L1097.7,1154.4 L1097.1,1157.4 L1096.6,1160.4 L1096.0,1163.4 L1095.5,1166.4 L1095.0,1169.4 L1094.4,1172.4 L1093.9,1175.4 L1093.4,1178.4 L1092.8,1181.4 L1092.3,1184.4 L1091.7,1187.4 L1091.2,1190.4 L1090.7,1193.4 L1090.1,1196.4 L1089.6,1199.4 L1089.1,1202.4 L1088.5,1205.4 L1088.0,1208.4 L1087.5,1211.4 L1087.0,1214.4 L1086.4,1217.4 L1085.9,1220.4 L1085.4,1223.4 L1084.8,1226.4 L1084.3,1229.4 L1083.8,1232.4 L1083.3,1235.4 L1082.8,1238.4 L1082.2,1241.4 L1081.7,1244.4 L1081.2,1247.4 L1080.7,1250.4 L1080.1,1253.4 L1079.6,1256.4 L1079.1,1259.4 L1078.6,1262.4 L1078.1,1265.4 L1077.6,1268.4 L1077.0,1271.4 L1076.5,1274.4 L1076.0,1277.4 L1075.5,1280.4 L1075.0,1283.4 L1074.5,1286.4 L1074.0,1289.4 L1073.4,1292.4 L1072.9,1295.4 L1072.4,1298.4 L1071.9,1301.4 L1071.4,1304.4 L1070.9,1307.4 L1070.4,1310.4 L1069.9,1313.4 L1069.4,1316.4 L1068.9,1319.4 L1068.4,1322.4 L1067.9,1325.4 L1067.4,1328.4 L1066.9,1331.4 L1066.4,1334.4 L1065.9,1337.4 L1065.4,1340.4 L1064.9,1343.4 L1064.4,1346.4 L1063.9,1349.4 L1063.4,1352.4 L1062.9,1355.4 L1062.4,1358.4 L1061.9,1361.4 L1061.4,1364.4 L1060.9,1367.4 L1060.4,1370.4 L1059.9,1373.4 L1059.4,1376.4 L1058.9,1379.4 L1058.4,1382.4 L1058.0,1385.4 L1057.5,1388.4 L1057.0,1391.4 L1056.5,1394.4 L1056.0,1397.4 L1055.5,1400.4 L1055.0,1403.4 L1054.6,1406.4 L1054.1,1409.4 L1053.6,1412.4 L1053.1,1415.4 L1052.6,1418.4 L1052.1,1421.4 L1051.7,1424.4 L1051.2,1427.4 L1050.7,1430.4 L1050.2,1433.4 L1049.8,1436.4 L1049.3,1439.4 L1048.8,1442.4 L1048.3,1445.4 L1047.9,1448.4 L1047.4,1451.4 L1046.9,1454.4 L1046.4,1457.4 L1046.0,1460.4 L1045.5,1463.4 L1045.0,1466.4 L1044.5,1469.4 L1044.1,1472.4 L1043.6,1475.4 L1043.1,1478.4 L1042.7,1481.4 L1042.2,1484.4 L1041.7,1487.4 L1041.3,1490.4 L1040.8,1493.4 L1040.4,1496.4 L1039.9,1499.4 L1039.4,1502.4 L1039.0,1505.4 L1038.5,1508.4 L1038.1,1511.4 L1037.6,1514.4 L1037.1,1517.4 L1036.7,1520.4 L1036.2,1523.4 L1035.8,1526.4 L1035.3,1529.4 L1034.9,1532.4 L1034.4,1535.4 L1033.9,1538.4 L1033.5,1541.4 L1033.0,1544.4 L1032.6,1547.4 L1032.1,1550.4 L1031.7,1553.4 L1031.2,1556.4 L1030.8,1559.4 L1030.3,1562.4 L1029.9,1565.4 L1029.5,1568.4 L1029.0,1571.4 L1028.6,1574.4 L1028.1,1577.4 L1027.7,1580.4 L1027.2,1583.4 L1026.8,1586.4 L1026.3,1589.4 L1025.9,1592.4 L1025.5,1595.4 L1025.0,1598.4 L1024.6,1601.4 L1024.2,1604.4 L1023.7,1607.4 L1023.3,1610.4 L1022.8,1613.4 L1022.4,1616.4 L1022.0,1619.4 L1021.5,1622.4 L1021.1,1625.4 L1020.7,1628.4 L1020.2,1631.4 L1019.8,1634.4 L1019.4,1637.4 L1019.0,1640.4 L1018.5,1643.4 L1018.1,1646.4 L1017.7,1649.4 L1017.2,1652.4 L1016.8,1655.4 L1016.4,1658.4 L1016.0,1661.4 L1015.5,1664.4 L1015.1,1667.4 L1014.7,1670.4 L1014.3,1673.4 L1013.9,1676.4 L1013.4,1679.4 L1013.0,1682.4 L1012.6,1685.4 L1012.2,1688.4 L1011.8,1691.4 L1011.3,1694.4 L1010.9,1697.4 L1010.5,1700.4 L1010.1,1703.4"/>
<path d="M1649.2,29.4 L1648.4,32.4 L1647.6,35.4 L1646.8,38.4 L1646.0,41.4 L1645.2,44.4 L1644.4,47.4 L1643.6,50.4 L1642.8,53.4 L1642.0,56.4 L1641.2,59.4 L1640.4,62.4 L1639.6,65.4 L1638.8,68.4 L1638.0,71.4 L1637.2,74.4 L1636.4,77.4 L1635.6,80.4 L1634.8,83.4 L1634.0,86.4 L1633.2,89.4 L1632.4,92.4 L1631.6,95.4 L1630.9,98.4 L1630.1,101.4 L1629.3,104.4 L1628.5,107.4 L1627.7,110.4 L1626.9,113.4 L1626.1,116.4 L1625.3,119.4 L1624.6,122.4 L1623.8,125.4 L1623.0,128.4 L1622.2,131.4 L1621.4,134.4 L1620.7,137.4 L1619.9,140.4 L1619.1,143.4 L1618.3,146.4 L1617.5,149.4 L1616.8,152.4 L1616.0,155.4 L1615.2,158.4 L1614.4,161.4 L1613.7,164.4 L1612.9,167.4 L1612.1,170.4 L1611.3,173.4 L1610.6,176.4 L1609.8,179.4 L1609.0,182.4 L1608.3,185.4 L1607.5,188.4 L1606.7,191.4 L1606.0,194.4 L1605.2,197.4 L1604.4,200.4 L1603.7,203.4 L1602.9,206.4 L1602.1,209.4 L1601.4,212.4 L1600.6,215.4 L1599.8,218.4 L1599.1,221.4 L1598.3,224.4 L1597.6,227.4 L1596.8,230.4 L1596.0,233.4 L1595.3,236.4 L1594.5,239.4 L1593.8,242.4 L1593.0,245.4 L1592.3,248.4 L1591.5,251.4 L1590.8,254.4 L1590.0,257.4 L1589.2,260.4 L1588.5,263.4 L1587.7,266.4 L1587.0,269.4 L1586.2,272.4 L1585.5,275.4 L1584.7,278.4 L1584.0,281.4 L1583.3,284.4 L1582.5,287.4 L1581.8,290.4 L1581.0,293.4 L1580.3,296.4 L1579.5,299.4 L1578.8,302.4 L1578.0,305.4 L1577.3,308.4 L1576.6,311.4 L1575.8,314.4 L1575.1,317.4 L1574.3,320.4 L1573.6,323.4 L1572.9,326.4 L1572.1,329.4 L1571.4,332.4 L1570.7,335.4 L1569.9,338.4 L1569.2,341.4 L1568.5,344.4 L1567.7,347.4 L1567.0,350.4 L1566.3,353.4 L1565.5,356.4 L1564.8,359.4 L1564.1,362.4 L1563.3,365.4 L1562.6,368.4 L1561.9,371.4 L1561.2,374.4 L1560.4,377.4 L1559.7,380.4 L1559.0,383.4 L1558.3,386.4 L1557.5,389.4 L1556.8,392.4 L1556.1,395.4 L1555.4,398.4 L1554.6,401.4 L1553.9,404.4 L1553.2,407.4 L1552.5,410.4 L1551.8,413.4 L1551.0,416.4 L1550.3,419.4 L1549.6,422.4 L1548.9,425.4 L1548.2,428.4 L1547.5,431.4 L1546.8,434.4 L1546.0,437.4 L1545.3,440.4 L1544.6,443.4 L1543.9,446.4 L1543.2,449.4 L1542.5,452.4 L1541.8,455.4 L1541.1,458.4 L1540.4,461.4 L1539.7,464.4 L1539.0,467.4 L1538.3,470.4 L1537.6,473.4 L1536.8,476.4 L1536.1,479.4 L1535.4,482.4 L1534.7,485.4 L1534.0,488.4 L1533.3,491.4 L1532.6,494.4 L1531.9,497.4 L1531.2,500.4 L1530.5,503.4 L1529.9,506.4 L1529.2,509.4 L1528.5,512.4 L1527.8,515.4 L1527.6,516.0"/>
<path d="M1494.1,664.5 L1493.9,665.4 L1493.2,668.4 L1492.6,671.4 L1491.9,674.4 L1491.3,677.4 L1490.6,680.4 L1490.0,683.4 L1489.3,686.4 L1488.6,689.4 L1488.0,692.4 L1487.3,695.4 L1486.7,698.4 L1486.0,701.4 L1485.4,704.4 L1484.7,707.4 L1484.1,710.4 L1483.4,713.4 L1482.8,716.4 L1482.1,719.4 L1481.5,722.4 L1480.8,725.4 L1480.2,728.4 L1479.5,731.4 L1478.9,734.4 L1478.3,737.4 L1477.6,740.4 L1477.0,743.4 L1476.3,746.4 L1475.7,749.4 L1475.1,752.4 L1474.4,755.4 L1473.8,758.4 L1473.1,761.4 L1472.5,764.4 L1471.9,767.4 L1471.2,770.4 L1470.6,773.4 L1470.0,776.4 L1469.3,779.4 L1468.7,782.4 L1468.1,785.4 L1467.4,788.4 L1466.8,791.4 L1466.2,794.4 L1465.5,797.4 L1464.9,800.4 L1464.3,803.4 L1463.6,806.4 L1463.0,809.4 L1462.4,812.4 L1461.8,815.4 L1461.1,818.4 L1460.5,821.4 L1459.9,824.4 L1459.3,827.4 L1458.6,830.4 L1458.0,833.4 L1457.4,836.4 L1456.8,839.4 L1456.2,842.4 L1455.5,845.4 L1454.9,848.4 L1454.3,851.4 L1453.7,854.4 L1453.1,857.4 L1452.5,860.4 L1451.8,863.4 L1451.2,866.4 L1450.6,869.4 L1450.0,872.4 L1449.4,875.4 L1448.8,878.4 L1448.2,881.4 L1447.6,884.4 L1446.9,887.4 L1446.3,890.4 L1445.7,893.4 L1445.1,896.4 L1444.5,899.4 L1443.9,902.4 L1443.3,905.4 L1442.7,908.4 L1442.1,911.4 L1441.5,914.4 L1440.9,917.4 L1440.3,920.4 L1439.7,923.4 L1439.1,926.4 L1438.5,929.4 L1437.9,932.4 L1437.3,935.4 L1436.7,938.4 L1436.1,941.4 L1435.5,944.4 L1434.9,947.4 L1434.3,950.4 L1433.7,953.4 L1433.1,956.4 L1432.5,959.4 L1431.9,962.4 L1431.3,965.4 L1430.7,968.4 L1430.2,971.4 L1429.6,974.4 L1429.0,977.4 L1428.4,980.4 L1427.8,983.4 L1427.2,986.4 L1426.6,989.4 L1426.0,992.4 L1425.5,995.4 L1424.9,998.4 L1424.3,1001.4 L1423.7,1004.4 L1423.1,1007.4 L1422.5,1010.4 L1422.0,1013.4 L1421.4,1016.4 L1420.8,1019.4 L1420.2,1022.4 L1419.7,1025.4 L1419.1,1028.4 L1418.5,1031.4 L1417.9,1034.4 L1417.3,1037.4 L1416.8,1040.4 L1416.2,1043.4 L1415.6,1046.4 L1415.1,1049.4 L1414.5,1052.4 L1413.9,1055.4 L1413.3,1058.4 L1412.8,1061.4 L1412.2,1064.4 L1411.6,1067.4 L1411.1,1070.4 L1410.5,1073.4 L1409.9,1076.4 L1409.4,1079.4 L1408.8,1082.4 L1408.2,1085.4 L1407.7,1088.4 L1407.1,1091.4 L1406.6,1094.4 L1406.0,1097.4 L1405.4,1100.4 L1404.9,1103.4 L1404.3,1106.4 L1403.8,1109.4 L1403.2,1112.4 L1402.6,1115.4 L1402.1,1118.4 L1401.5,1121.4 L1401.0,1124.4 L1400.4,1127.4 L1399.9,1130.4 L1399.3,1133.4 L1398.8,1136.4 L1398.2,1139.4 L1397.7,1142.4 L1397.1,1145.4 L1396.6,1148.4 L1396.0,1151.4 L1395.5,1154.4 L1394.9,1157.4 L1394.4,1160.4 L1393.8,1163.4 L1393.3,1166.4 L1392.7,1169.4 L1392.2,1172.4 L1391.7,1175.4 L1391.1,1178.4 L1390.6,1181.4 L1390.0,1184.4 L1389.5,1187.4 L1389.0,1190.4 L1388.4,1193.4 L1387.9,1196.4 L1387.3,1199.4 L1386.8,1202.4 L1386.3,1205.4 L1385.7,1208.4 L1385.2,1211.4 L1384.7,1214.4 L1384.1,1217.4 L1383.6,1220.4 L1383.1,1223.4 L1382.5,1226.4 L1382.0,1229.4 L1381.5,1232.4 L1380.9,1235.4 L1380.4,1238.4 L1379.9,1241.4 L1379.4,1244.4 L1378.8,1247.4 L1378.3,1250.4 L1377.8,1253.4 L1377.3,1256.4 L1376.7,1259.4 L1376.2,1262.4 L1375.7,1265.4 L1375.2,1268.4 L1374.7,1271.4 L1374.1,1274.4 L1373.6,1277.4 L1373.1,1280.4 L1372.6,1283.4 L1372.1,1286.4 L1371.5,1289.4 L1371.0,1292.4 L1370.5,1295.4 L1370.0,1298.4 L1369.5,1301.4 L1369.0,1304.4 L1368.5,1307.4 L1367.9,1310.4 L1367.4,1313.4 L1366.9,1316.4 L1366.4,1319.4 L1365.9,1322.4 L1365.4,1325.4 L1364.9,1328.4 L1364.4,1331.4 L1363.9,1334.4 L1363.4,1337.4 L1362.9,1340.4 L1362.4,1343.4 L1361.9,1346.4 L1361.4,1349.4 L1360.9,1352.4 L1360.4,1355.4 L1359.9,1358.4 L1359.4,1361.4 L1358.9,1364.4 L1358.4,1367.4 L1357.9,1370.4 L1357.4,1373.4 L1356.9,1376.4 L1356.4,1379.4 L1355.9,1382.4 L1355.4,1385.4 L1354.9,1388.4 L1354.4,1391.4 L1353.9,1394.4 L1353.4,1397.4 L1352.9,1400.4 L1352.4,1403.4 L1351.9,1406.4 L1351.5,1409.4 L1351.0,1412.4 L1350.5,1415.4 L1350.0,1418.4 L1349.5,1421.4 L1349.0,1424.4 L1348.5,1427.4 L1348.1,1430.4 L1347.6,1433.4 L1347.1,1436.4 L1346.6,1439.4 L1346.1,1442.4 L1345.7,1445.4 L1345.2,1448.4 L1344.7,1451.4 L1344.2,1454.4 L1343.7,1457.4 L1343.3,1460.4 L1342.8,1463.4 L1342.3,1466.4 L1341.8,1469.4 L1341.4,1472.4 L1340.9,1475.4 L1340.4,1478.4 L1339.9,1481.4 L1339.5,1484.4 L1339.0,1487.4 L1338.5,1490.4 L1338.1,1493.4 L1337.6,1496.4 L1337.1,1499.4 L1336.7,1502.4 L1336.2,1505.4 L1335.7,1508.4 L1335.3,1511.4 L1334.8,1514.4 L1334.3,1517.4 L1333.9,1520.4 L1333.4,1523.4 L1333.0,1526.4 L1332.5,1529.4 L1332.0,1532.4 L1331.6,1535.4 L1331.1,1538.4 L1330.7,1541.4 L1330.2,1544.4 L1329.8,1547.4 L1329.3,1550.4 L1328.8,1553.4 L1328.4,1556.4 L1327.9,1559.4 L1327.5,1562.4 L1327.0,1565.4 L1326.6,1568.4 L1326.1,1571.4 L1325.7,1574.4 L1325.2,1577.4 L1324.8,1580.4 L1324.3,1583.4 L1323.9,1586.4 L1323.4,1589.4 L1323.0,1592.4 L1322.5,1595.4 L1322.1,1598.4 L1321.7,1601.4 L1321.2,1604.4 L1320.8,1607.4 L1320.3,1610.4 L1319.9,1613.4 L1319.5,1616.4 L1319.0,1619.4 L1318.6,1622.4 L1318.1,1625.4 L1317.7,1628.4 L1317.3,1631.4 L1316.8,1634.4 L1316.4,1637.4 L1316.0,1640.4 L1315.5,1643.4 L1315.1,1646.4 L1314.7,1649.4 L1314.2,1652.4 L1313.8,1655.4 L1313.4,1658.4 L1312.9,1661.4 L1312.5,1664.4 L1312.1,1667.4 L1311.7,1670.4 L1311.2,1673.4 L1310.8,1676.4 L1310.4,1679.4 L1310.0,1682.4 L1309.5,1685.4 L1309.1,1688.4 L1308.7,1691.4 L1308.3,1694.4 L1307.8,1697.4 L1307.4,1700.4 L1307.0,1703.4"/>
<path d="M1948.7,29.4 L1947.9,32.4 L1947.1,35.4 L1946.3,38.4 L1945.5,41.4 L1944.7,44.4 L1943.9,47.4 L1943.1,50.4 L1942.3,53.4 L1941.5,56.4 L1940.7,59.4 L1939.9,62.4 L1939.1,65.4 L1938.3,68.4 L1937.5,71.4 L1936.7,74.4 L1935.9,77.4 L1935.1,80.4 L1934.3,83.4 L1933.5,86.4 L1932.7,89.4 L1931.9,92.4 L1931.1,95.4 L1930.3,98.4 L1929.5,101.4 L1928.7,104.4 L1927.9,107.4 L1927.1,110.4 L1926.4,113.4 L1925.6,116.4 L1924.8,119.4 L1924.0,122.4 L1923.2,125.4 L1922.4,128.4 L1921.6,131.4 L1920.8,134.4 L1920.1,137.4 L1919.3,140.4 L1918.5,143.4 L1917.7,146.4 L1916.9,149.4 L1916.1,152.4 L1915.4,155.4 L1914.6,158.4 L1913.8,161.4 L1913.0,164.4 L1912.2,167.4 L1911.5,170.4 L1910.7,173.4 L1909.9,176.4 L1909.1,179.4 L1908.4,182.4 L1907.6,185.4 L1906.8,188.4 L1906.0,191.4 L1905.3,194.4 L1904.5,197.4 L1903.7,200.4 L1903.0,203.4 L1902.2,206.4 L1901.4,209.4 L1900.6,212.4 L1899.9,215.4 L1899.1,218.4 L1898.3,221.4 L1897.6,224.4 L1896.8,227.4 L1896.1,230.4 L1895.3,233.4 L1894.5,236.4 L1893.8,239.4 L1893.0,242.4 L1892.2,245.4 L1891.5,248.4 L1890.7,251.4 L1890.0,254.4 L1889.2,257.4 L1888.5,260.4 L1887.7,263.4 L1886.9,266.4 L1886.2,269.4 L1885.4,272.4 L1884.7,275.4 L1883.9,278.4 L1883.2,281.4 L1882.4,284.4 L1881.7,287.4 L1880.9,290.4 L1880.2,293.4 L1879.4,296.4 L1878.7,299.4 L1877.9,302.4 L1877.2,305.4 L1876.4,308.4 L1875.7,311.4 L1874.9,314.4 L1874.2,317.4 L1873.5,320.4 L1872.7,323.4 L1872.0,326.4 L1871.2,329.4 L1870.5,332.4 L1869.7,335.4 L1869.0,338.4 L1868.3,341.4 L1867.5,344.4 L1866.8,347.4 L1866.1,350.4 L1865.3,353.4 L1864.6,356.4 L1863.8,359.4 L1863.1,362.4 L1862.4,365.4 L1861.6,368.4 L1860.9,371.4 L1860.2,374.4 L1859.5,377.4 L1858.7,380.4 L1858.0,383.4 L1857.3,386.4 L1856.5,389.4 L1855.8,392.4 L1855.1,395.4 L1854.4,398.4 L1853.6,401.4 L1852.9,404.4 L1852.2,407.4 L1851.5,410.4 L1850.7,413.4 L1850.0,416.4 L1849.3,419.4 L1848.6,422.4 L1847.9,425.4 L1847.1,428.4 L1846.4,431.4 L1845.7,434.4 L1845.0,437.4 L1844.3,440.4 L1843.5,443.4 L1842.8,446.4 L1842.1,449.4 L1841.4,452.4 L1840.7,455.4 L1840.0,458.4 L1839.3,461.4 L1838.6,464.4 L1837.8,467.4 L1837.1,470.4 L1836.4,473.4 L1835.7,476.4 L1835.0,479.4 L1834.3,482.4 L1833.6,485.4 L1832.9,488.4 L1832.2,491.4 L1831.5,494.4 L1830.8,497.4 L1830.1,500.4 L1829.4,503.4 L1828.7,506.4 L1828.0,509.4 L1827.3,512.4 L1826.6,515.4 L1825.9,518.4 L1825.2,521.4 L1824.5,524.4 L1823.8,527.4 L1823.1,530.4 L1822.4,533.4 L1821.7,536.4 L1821.0,539.4 L1820.3,542.4 L1819.6,545.4 L1818.9,548.4 L1818.2,551.4 L1817.5,554.4 L1816.9,557.4 L1816.2,560.4 L1815.5,563.4 L1814.8,566.4 L1814.1,569.4 L1813.4,572.4 L1812.7,575.4 L1812.0,578.4 L1811.4,581.4 L1810.7,584.4 L1810.0,587.4 L1809.3,590.4 L1808.6,593.4 L1807.9,596.4 L1807.3,599.4 L1806.6,602.4 L1805.9,605.4 L1805.2,608.4 L1804.6,611.4 L1803.9,614.4 L1803.2,617.4 L1802.5,620.4 L1801.9,623.4 L1801.2,626.4 L1800.5,629.4 L1799.8,632.4 L1799.2,635.4 L1798.5,638.4 L1797.8,641.4 L1797.1,644.4 L1796.5,647.4 L1795.8,650.4 L1795.1,653.4 L1794.5,656.4 L1793.8,659.4 L1793.1,662.4 L1792.5,665.4 L1791.8,668.4 L1791.1,671.4 L1790.5,674.4 L1789.8,677.4 L1789.2,680.4 L1788.5,683.4 L1787.8,686.4 L1787.2,689.4 L1786.5,692.4 L1785.9,695.4 L1785.2,698.4 L1784.5,701.4 L1783.9,704.4 L1783.2,707.4 L1782.6,710.4 L1781.9,713.4 L1781.3,716.4 L1780.6,719.4 L1780.0,722.4 L1779.3,725.4 L1778.7,728.4 L1778.0,731.4 L1777.4,734.4 L1776.7,737.4 L1776.1,740.4 L1775.4,743.4 L1774.8,746.4 L1774.1,749.4 L1773.5,752.4 L1772.8,755.4 L1772.2,758.4 L1771.6,761.4 L1770.9,764.4 L1770.3,767.4 L1769.6,770.4 L1769.0,773.4 L1768.3,776.4 L1767.7,779.4 L1767.1,782.4 L1766.4,785.4 L1765.8,788.4 L1765.2,791.4 L1764.5,794.4 L1763.9,797.4 L1763.3,800.4 L1762.6,803.4 L1762.0,806.4 L1761.4,809.4 L1760.7,812.4 L1760.1,815.4 L1759.5,818.4 L1758.8,821.4 L1758.2,824.4 L1757.6,827.4 L1757.0,830.4 L1756.3,833.4 L1755.7,836.4 L1755.1,839.4 L1754.4,842.4 L1753.8,845.4 L1753.2,848.4 L1752.6,851.4 L1752.0,854.4 L1751.3,857.4 L1750.7,860.4 L1750.1,863.4 L1749.5,866.4 L1748.9,869.4 L1748.2,872.4 L1747.6,875.4 L1747.0,878.4 L1746.4,881.4 L1745.8,884.4 L1745.2,887.4 L1744.5,890.4 L1743.9,893.4 L1743.3,896.4 L1742.7,899.4 L1742.1,902.4 L1741.5,905.4 L1740.9,908.4 L1740.3,911.4 L1739.7,914.4 L1739.1,917.4 L1738.5,920.4 L1737.8,923.4 L1737.2,926.4 L1736.6,929.4 L1736.0,932.4 L1735.4,935.4 L1734.8,938.4 L1734.2,941.4 L1733.6,944.4 L1733.0,947.4 L1732.4,950.4 L1731.8,953.4 L1731.2,956.4 L1730.6,959.4 L1730.0,962.4 L1729.4,965.4 L1728.8,968.4 L1728.2,971.4 L1727.6,974.4 L1727.1,977.4 L1726.5,980.4 L1725.9,983.4 L1725.3,986.4 L1724.7,989.4 L1724.1,992.4 L1723.5,995.4 L1722.9,998.4 L1722.3,1001.4 L1721.7,1004.4 L1721.2,1007.4 L1720.6,1010.4 L1720.0,1013.4 L1719.4,1016.4 L1718.8,1019.4 L1718.2,1022.4 L1717.7,1025.4 L1717.1,1028.4 L1716.5,1031.4 L1715.9,1034.4 L1715.3,1037.4 L1714.8,1040.4 L1714.2,1043.4 L1713.6,1046.4 L1713.0,1049.4 L1712.4,1052.4 L1711.9,1055.4 L1711.3,1058.4 L1710.7,1061.4 L1710.1,1064.4 L1709.6,1067.4 L1709.0,1070.4 L1708.4,1073.4 L1707.9,1076.4 L1707.3,1079.4 L1706.7,1082.4 L1706.1,1085.4 L1705.6,1088.4 L1705.0,1091.4 L1704.4,1094.4 L1703.9,1097.4 L1703.3,1100.4 L1702.8,1103.4 L1702.2,1106.4 L1701.6,1109.4 L1701.1,1112.4 L1700.5,1115.4 L1699.9,1118.4 L1699.4,1121.4 L1698.8,1124.4 L1698.3,1127.4 L1697.7,1130.4 L1697.1,1133.4 L1696.6,1136.4 L1696.0,1139.4 L1695.5,1142.4 L1694.9,1145.4 L1694.4,1148.4 L1693.8,1151.4 L1693.3,1154.4 L1692.7,1157.4 L1692.2,1160.4 L1691.6,1163.4 L1691.1,1166.4 L1690.5,1169.4 L1690.0,1172.4 L1689.4,1175.4 L1688.9,1178.4 L1688.3,1181.4 L1687.8,1184.4 L1687.2,1187.4 L1686.7,1190.4 L1686.1,1193.4 L1685.6,1196.4 L1685.1,1199.4 L1684.5,1202.4 L1684.0,1205.4 L1683.4,1208.4 L1682.9,1211.4 L1682.4,1214.4 L1681.8,1217.4 L1681.3,1220.4 L1680.7,1223.4 L1680.2,1226.4 L1679.7,1229.4 L1679.1,1232.4 L1678.6,1235.4 L1678.1,1238.4 L1677.5,1241.4 L1677.0,1244.4 L1676.5,1247.4 L1675.9,1250.4 L1675.4,1253.4 L1674.9,1256.4 L1674.4,1259.4 L1673.8,1262.4 L1673.3,1265.4 L1672.8,1268.4 L1672.3,1271.4 L1671.7,1274.4 L1671.2,1277.4 L1670.7,1280.4 L1670.2,1283.4 L1669.6,1286.4 L1669.1,1289.4 L1668.6,1292.4 L1668.1,1295.4 L1667.6,1298.4 L1667.0,1301.4 L1666.5,1304.4 L1666.0,1307.4 L1665.5,1310.4 L1665.0,1313.4 L1664.5,1316.4 L1663.9,1319.4 L1663.4,1322.4 L1662.9,1325.4 L1662.4,1328.4 L1661.9,1331.4 L1661.4,1334.4 L1660.9,1337.4 L1660.4,1340.4 L1659.9,1343.4 L1659.3,1346.4 L1658.8,1349.4 L1658.3,1352.4 L1657.8,1355.4 L1657.3,1358.4 L1656.8,1361.4 L1656.3,1364.4 L1655.8,1367.4 L1655.3,1370.4 L1654.8,1373.4 L1654.3,1376.4 L1653.8,1379.4 L1653.3,1382.4 L1652.8,1385.4 L1652.3,1388.4 L1651.8,1391.4 L1651.3,1394.4 L1650.8,1397.4 L1650.3,1400.4 L1649.8,1403.4 L1649.3,1406.4 L1648.8,1409.4 L1648.3,1412.4 L1647.9,1415.4 L1647.4,1418.4 L1646.9,1421.4 L1646.4,1424.4 L1645.9,1427.4 L1645.4,1430.4 L1644.9,1433.4 L1644.4,1436.4 L1643.9,1439.4 L1643.5,1442.4 L1643.0,1445.4 L1642.5,1448.4 L1642.0,1451.4 L1641.5,1454.4 L1641.0,1457.4 L1640.6,1460.4 L1640.4,1461.3"/>
<path d="M1617.1,1612.4 L1616.9,1613.4 L1616.5,1616.4 L1616.0,1619.4 L1615.6,1622.4 L1615.2,1625.4 L1614.7,1628.4 L1614.3,1631.4 L1613.8,1634.4 L1613.4,1637.4 L1613.0,1640.4 L1612.5,1643.4 L1612.1,1646.4 L1611.6,1649.4 L1611.2,1652.4 L1610.8,1655.4 L1610.3,1658.4 L1609.9,1661.4 L1609.5,1664.4 L1609.0,1667.4 L1608.6,1670.4 L1608.2,1673.4 L1607.7,1676.4 L1607.3,1679.4 L1606.9,1682.4 L1606.5,1685.4 L1606.0,1688.4 L1605.6,1691.4 L1605.2,1694.4 L1604.7,1697.4 L1604.3,1700.4 L1603.9,1703.4"/>
<path d="M2208.7,178.3 L2208.5,179.4 L2207.7,182.4 L2206.9,185.4 L2206.1,188.4 L2205.3,191.4 L2204.6,194.4 L2203.8,197.4 L2203.0,200.4 L2202.2,203.4 L2201.5,206.4 L2200.7,209.4 L2199.9,212.4 L2199.1,215.4 L2198.4,218.4 L2197.6,221.4 L2196.8,224.4 L2196.1,227.4 L2195.3,230.4 L2194.5,233.4 L2193.8,236.4 L2193.0,239.4 L2192.2,242.4 L2191.5,245.4 L2190.7,248.4 L2189.9,251.4 L2189.2,254.4 L2188.4,257.4 L2187.6,260.4 L2186.9,263.4 L2186.1,266.4 L2185.4,269.4 L2184.6,272.4 L2183.8,275.4 L2183.1,278.4 L2182.3,281.4 L2181.6,284.4 L2180.8,287.4 L2180.1,290.4 L2179.3,293.4 L2178.6,296.4 L2177.8,299.4 L2177.1,302.4 L2176.3,305.4 L2175.5,308.4 L2174.8,311.4 L2174.0,314.4 L2173.3,317.4 L2172.6,320.4 L2171.8,323.4 L2171.1,326.4 L2170.3,329.4 L2169.6,332.4 L2168.8,335.4 L2168.1,338.4 L2167.3,341.4 L2166.6,344.4 L2165.8,347.4 L2165.1,350.4 L2164.4,353.4 L2163.6,356.4 L2162.9,359.4 L2162.1,362.4 L2161.4,365.4 L2160.7,368.4 L2159.9,371.4 L2159.2,374.4 L2158.5,377.4 L2157.7,380.4 L2157.0,383.4 L2156.3,386.4 L2155.5,389.4 L2154.8,392.4 L2154.1,395.4 L2153.3,398.4 L2152.6,401.4 L2151.9,404.4 L2151.1,407.4 L2150.4,410.4 L2149.7,413.4 L2149.0,416.4 L2148.2,419.4 L2147.5,422.4 L2146.8,425.4 L2146.1,428.4 L2145.3,431.4 L2144.6,434.4 L2143.9,437.4 L2143.2,440.4 L2142.5,443.4 L2141.7,446.4 L2141.0,449.4 L2140.3,452.4 L2139.6,455.4 L2138.9,458.4 L2138.1,461.4 L2137.4,464.4 L2136.7,467.4 L2136.0,470.4 L2135.3,473.4 L2134.6,476.4 L2133.9,479.4 L2133.2,482.4 L2132.4,485.4 L2131.7,488.4 L2131.0,491.4 L2130.3,494.4 L2129.6,497.4 L2128.9,500.4 L2128.2,503.4 L2127.5,506.4 L2126.8,509.4 L2126.1,512.4 L2125.4,515.4 L2124.7,518.4 L2124.0,521.4 L2123.3,524.4 L2122.6,527.4 L2121.9,530.4 L2121.2,533.4 L2120.5,536.4 L2119.8,539.4 L2119.1,542.4 L2118.4,545.4 L2117.7,548.4 L2117.0,551.4 L2116.3,554.4 L2115.6,557.4 L2114.9,560.4 L2114.2,563.4 L2113.5,566.4 L2112.8,569.4 L2112.1,572.4 L2111.4,575.4 L2110.7,578.4 L2110.1,581.4 L2109.4,584.4 L2108.7,587.4 L2108.0,590.4 L2107.3,593.4 L2106.6,596.4 L2105.9,599.4 L2105.2,602.4 L2104.6,605.4 L2103.9,608.4 L2103.2,611.4 L2102.5,614.4 L2101.8,617.4 L2101.2,620.4 L2100.5,623.4 L2099.8,626.4 L2099.1,629.4 L2098.4,632.4 L2097.8,635.4 L2097.1,638.4 L2096.4,641.4 L2095.7,644.4 L2095.1,647.4 L2094.4,650.4 L2093.7,653.4 L2093.1,656.4 L2092.4,659.4 L2091.7,662.4 L2091.0,665.4 L2090.4,668.4 L2089.7,671.4 L2089.0,674.4 L2088.4,677.4 L2087.7,680.4 L2087.0,683.4 L2086.4,686.4 L2085.7,689.4 L2085.0,692.4 L2084.4,695.4 L2083.7,698.4 L2083.1,701.4 L2082.4,704.4 L2081.7,707.4 L2081.1,710.4 L2080.4,713.4 L2079.8,716.4 L2079.1,719.4 L2078.4,722.4 L2077.8,725.4 L2077.1,728.4 L2076.5,731.4 L2075.8,734.4 L2075.2,737.4 L2074.5,740.4 L2073.9,743.4 L2073.2,746.4 L2072.6,749.4 L2071.9,752.4 L2071.3,755.4 L2070.6,758.4 L2070.0,761.4 L2069.3,764.4 L2068.7,767.4 L2068.0,770.4 L2067.4,773.4 L2066.7,776.4 L2066.1,779.4 L2065.4,782.4 L2064.8,785.4 L2064.2,788.4 L2063.5,791.4 L2062.9,794.4 L2062.2,797.4 L2061.6,800.4 L2061.0,803.4 L2060.3,806.4 L2059.7,809.4 L2059.1,812.4 L2058.4,815.4 L2057.8,818.4 L2057.1,821.4 L2056.5,824.4 L2055.9,827.4 L2055.3,830.4 L2054.6,833.4 L2054.0,836.4 L2053.4,839.4 L2052.7,842.4 L2052.1,845.4 L2051.5,848.4 L2050.8,851.4 L2050.2,854.4 L2049.6,857.4 L2049.0,860.4 L2048.3,863.4 L2047.7,866.4 L2047.1,869.4 L2046.5,872.4 L2045.9,875.4 L2045.2,878.4 L2044.6,881.4 L2044.0,884.4 L2043.4,887.4 L2042.8,890.4 L2042.1,893.4 L2041.5,896.4 L2040.9,899.4 L2040.3,902.4 L2039.7,905.4 L2039.1,908.4 L2038.4,911.4 L2037.8,914.4 L2037.2,917.4 L2036.6,920.4 L2036.0,923.4 L2035.4,926.4 L2034.8,929.4 L2034.2,932.4 L2033.6,935.4 L2033.0,938.4 L2032.3,941.4 L2031.7,944.4 L2031.1,947.4 L2030.5,950.4 L2029.9,953.4 L2029.3,956.4 L2028.7,959.4 L2028.1,962.4 L2027.5,965.4 L2026.9,968.4 L2026.3,971.4 L2025.7,974.4 L2025.1,977.4 L2024.5,980.4 L2023.9,983.4 L2023.3,986.4 L2022.7,989.4 L2022.1,992.4 L2021.5,995.4 L2021.0,998.4 L2020.4,1001.4 L2019.8,1004.4 L2019.2,1007.4 L2018.6,1010.4 L2018.0,1013.4 L2017.4,1016.4 L2016.8,1019.4 L2016.2,1022.4 L2015.6,1025.4 L2015.1,1028.4 L2014.5,1031.4 L2013.9,1034.4 L2013.3,1037.4 L2012.7,1040.4 L2012.1,1043.4 L2011.6,1046.4 L2011.0,1049.4 L2010.4,1052.4 L2009.8,1055.4 L2009.2,1058.4 L2008.6,1061.4 L2008.1,1064.4 L2007.5,1067.4 L2006.9,1070.4 L2006.3,1073.4 L2005.8,1076.4 L2005.2,1079.4 L2004.6,1082.4 L2004.0,1085.4 L2003.5,1088.4 L2002.9,1091.4 L2002.3,1094.4 L2001.8,1097.4 L2001.2,1100.4 L2000.6,1103.4 L2000.0,1106.4 L1999.5,1109.4 L1998.9,1112.4 L1998.3,1115.4 L1997.8,1118.4 L1997.2,1121.4 L1996.7,1124.4 L1996.1,1127.4 L1995.5,1130.4 L1995.0,1133.4 L1994.4,1136.4 L1993.8,1139.4 L1993.3,1142.4 L1992.7,1145.4 L1992.2,1148.4 L1991.6,1151.4 L1991.0,1154.4 L1990.5,1157.4 L1989.9,1160.4 L1989.4,1163.4 L1988.8,1166.4 L1988.3,1169.4 L1987.7,1172.4 L1987.2,1175.4 L1986.6,1178.4 L1986.1,1181.4 L1985.5,1184.4 L1985.0,1187.4 L1984.4,1190.4 L1983.9,1193.4 L1983.3,1196.4 L1982.8,1199.4 L1982.2,1202.4 L1981.7,1205.4 L1981.1,1208.4 L1980.6,1211.4 L1980.0,1214.4 L1979.5,1217.4 L1979.0,1220.4 L1978.4,1223.4 L1977.9,1226.4 L1977.3,1229.4 L1976.8,1232.4 L1976.3,1235.4 L1975.7,1238.4 L1975.2,1241.4 L1974.6,1244.4 L1974.1,1247.4 L1973.6,1250.4 L1973.0,1253.4 L1972.5,1256.4 L1972.0,1259.4 L1971.4,1262.4 L1970.9,1265.4 L1970.4,1268.4 L1969.8,1271.4 L1969.3,1274.4 L1968.8,1277.4 L1968.3,1280.4 L1967.7,1283.4 L1967.2,1286.4 L1966.7,1289.4 L1966.2,1292.4 L1965.6,1295.4 L1965.1,1298.4 L1964.6,1301.4 L1964.1,1304.4 L1963.5,1307.4 L1963.0,1310.4 L1962.5,1313.4 L1962.0,1316.4 L1961.5,1319.4 L1960.9,1322.4 L1960.4,1325.4 L1959.9,1328.4 L1959.4,1331.4 L1958.9,1334.4 L1958.4,1337.4 L1957.8,1340.4 L1957.3,1343.4 L1956.8,1346.4 L1956.3,1349.4 L1955.8,1352.4 L1955.3,1355.4 L1954.8,1358.4 L1954.3,1361.4 L1953.8,1364.4 L1953.2,1367.4 L1952.7,1370.4 L1952.2,1373.4 L1951.7,1376.4 L1951.2,1379.4 L1950.7,1382.4 L1950.2,1385.4 L1949.7,1388.4 L1949.2,1391.4 L1948.7,1394.4 L1948.2,1397.4 L1947.7,1400.4 L1947.2,1403.4 L1946.7,1406.4 L1946.2,1409.4 L1945.7,1412.4 L1945.2,1415.4 L1944.7,1418.4 L1944.2,1421.4 L1943.7,1424.4 L1943.2,1427.4 L1942.7,1430.4 L1942.2,1433.4 L1941.8,1436.4 L1941.3,1439.4 L1940.8,1442.4 L1940.3,1445.4 L1939.8,1448.4 L1939.3,1451.4 L1938.8,1454.4 L1938.3,1457.4 L1937.8,1460.4 L1937.4,1463.4 L1936.9,1466.4 L1936.4,1469.4 L1935.9,1472.4 L1935.4,1475.4 L1934.9,1478.4 L1934.5,1481.4 L1934.0,1484.4 L1933.5,1487.4 L1933.0,1490.4 L1932.5,1493.4 L1932.1,1496.4 L1931.6,1499.4 L1931.1,1502.4 L1930.6,1505.4 L1930.2,1508.4 L1929.7,1511.4 L1929.2,1514.4 L1928.7,1517.4 L1928.3,1520.4 L1927.8,1523.4 L1927.3,1526.4 L1926.9,1529.4 L1926.4,1532.4 L1925.9,1535.4 L1925.4,1538.4 L1925.0,1541.4 L1924.5,1544.4 L1924.0,1547.4 L1923.6,1550.4 L1923.1,1553.4 L1922.7,1556.4 L1922.2,1559.4 L1921.7,1562.4 L1921.3,1565.4 L1920.8,1568.4 L1920.3,1571.4 L1919.9,1574.4 L1919.4,1577.4 L1919.0,1580.4 L1918.5,1583.4 L1918.1,1586.4 L1917.6,1589.4 L1917.1,1592.4 L1916.7,1595.4 L1916.2,1598.4 L1915.8,1601.4 L1915.3,1604.4 L1914.9,1607.4 L1914.4,1610.4 L1914.0,1613.4 L1913.5,1616.4 L1913.1,1619.4 L1912.6,1622.4 L1912.2,1625.4 L1911.7,1628.4 L1911.3,1631.4 L1910.8,1634.4 L1910.4,1637.4 L1909.9,1640.4 L1909.5,1643.4 L1909.1,1646.4 L1908.6,1649.4 L1908.2,1652.4 L1907.7,1655.4 L1907.3,1658.4 L1906.9,1661.4 L1906.4,1664.4 L1906.0,1667.4 L1905.5,1670.4 L1905.1,1673.4 L1904.7,1676.4 L1904.2,1679.4 L1903.8,1682.4 L1903.4,1685.4 L1902.9,1688.4 L1902.5,1691.4 L1902.1,1694.4 L1901.6,1697.4 L1901.2,1700.4 L1900.8,1703.4"/>
<path d="M2547.8,29.4 L2547.0,32.4 L2546.2,35.4 L2545.4,38.4 L2544.6,41.4 L2543.7,44.4 L2542.9,47.4 L2542.1,50.4 L2541.3,53.4 L2540.5,56.4 L2539.7,59.4 L2538.9,62.4 L2538.1,65.4 L2537.2,68.4 L2536.4,71.4 L2535.6,74.4 L2534.8,77.4 L2534.0,80.4 L2533.2,83.4 L2532.4,86.4 L2531.6,89.4 L2530.8,92.4 L2530.0,95.4 L2529.2,98.4 L2528.4,101.4 L2527.6,104.4 L2526.8,107.4 L2526.0,110.4 L2525.2,113.4 L2524.4,116.4 L2523.6,119.4 L2522.8,122.4 L2522.0,125.4 L2521.2,128.4 L2520.4,131.4 L2519.6,134.4 L2518.8,137.4 L2518.0,140.4 L2517.2,143.4 L2516.4,146.4 L2515.6,149.4 L2514.9,152.4 L2514.1,155.4 L2513.3,158.4 L2512.5,161.4 L2511.7,164.4 L2510.9,167.4 L2510.1,170.4 L2509.3,173.4 L2508.5,176.4 L2507.8,179.4 L2507.0,182.4 L2506.2,185.4 L2505.4,188.4 L2504.6,191.4 L2503.8,194.4 L2503.1,197.4 L2502.3,200.4 L2501.5,203.4 L2500.7,206.4 L2500.0,209.4 L2499.2,212.4 L2498.4,215.4 L2497.6,218.4 L2496.8,221.4 L2496.1,224.4 L2495.3,227.4 L2494.5,230.4 L2493.8,233.4 L2493.0,236.4 L2492.2,239.4 L2491.4,242.4 L2490.7,245.4 L2489.9,248.4 L2489.1,251.4 L2488.4,254.4 L2487.6,257.4 L2486.8,260.4 L2486.1,263.4 L2485.3,266.4 L2484.5,269.4 L2483.8,272.4 L2483.0,275.4 L2482.2,278.4 L2481.5,281.4 L2480.7,284.4 L2480.0,287.4 L2479.2,290.4 L2478.4,293.4 L2477.7,296.4 L2476.9,299.4 L2476.2,302.4 L2475.4,305.4 L2474.7,308.4 L2473.9,311.4 L2473.1,314.4 L2472.4,317.4 L2471.6,320.4 L2470.9,323.4 L2470.1,326.4 L2469.4,329.4 L2468.6,332.4 L2467.9,335.4 L2467.1,338.4 L2466.4,341.4 L2465.6,344.4 L2464.9,347.4 L2464.2,350.4 L2463.4,353.4 L2462.7,356.4 L2461.9,359.4 L2461.2,362.4 L2460.4,365.4 L2459.7,368.4 L2458.9,371.4 L2458.2,374.4 L2457.5,377.4 L2456.7,380.4 L2456.0,383.4 L2455.2,386.4 L2454.5,389.4 L2453.8,392.4 L2453.0,395.4 L2452.3,398.4 L2451.6,401.4 L2450.8,404.4 L2450.1,407.4 L2449.4,410.4 L2448.6,413.4 L2447.9,416.4 L2447.2,419.4 L2446.4,422.4 L2445.7,425.4 L2445.0,428.4 L2444.3,431.4 L2443.5,434.4 L2442.8,437.4 L2442.1,440.4 L2441.4,443.4 L2440.6,446.4 L2439.9,449.4 L2439.2,452.4 L2438.5,455.4 L2437.7,458.4 L2437.0,461.4 L2436.3,464.4 L2435.6,467.4 L2434.9,470.4 L2434.1,473.4 L2433.4,476.4 L2432.7,479.4 L2432.0,482.4 L2431.3,485.4 L2430.6,488.4 L2429.8,491.4 L2429.1,494.4 L2428.4,497.4 L2427.7,500.4 L2427.0,503.4 L2426.3,506.4 L2425.6,509.4 L2424.9,512.4 L2424.2,515.4 L2423.4,518.4 L2422.7,521.4 L2422.0,524.4 L2421.3,527.4 L2420.6,530.4 L2419.9,533.4 L2419.2,536.4 L2418.5,539.4 L2417.8,542.4 L2417.1,545.4 L2416.4,548.4 L2415.7,551.4 L2415.0,554.4 L2414.3,557.4 L2413.6,560.4 L2412.9,563.4 L2412.2,566.4 L2411.5,569.4 L2410.8,572.4 L2410.1,575.4 L2409.4,578.4 L2408.7,581.4 L2408.0,584.4 L2407.4,587.4 L2406.7,590.4 L2406.0,593.4 L2405.3,596.4 L2404.6,599.4 L2403.9,602.4 L2403.2,605.4 L2402.5,608.4 L2401.8,611.4 L2401.2,614.4 L2400.5,617.4 L2399.8,620.4 L2399.1,623.4 L2398.4,626.4 L2397.7,629.4 L2397.0,632.4 L2396.4,635.4 L2395.7,638.4 L2395.0,641.4 L2394.3,644.4 L2393.6,647.4 L2393.0,650.4 L2392.3,653.4 L2391.6,656.4 L2390.9,659.4 L2390.3,662.4 L2389.6,665.4 L2388.9,668.4 L2388.2,671.4 L2387.6,674.4 L2386.9,677.4 L2386.2,680.4 L2385.6,683.4 L2384.9,686.4 L2384.2,689.4 L2383.5,692.4 L2382.9,695.4 L2382.2,698.4 L2381.5,701.4 L2380.9,704.4 L2380.2,707.4 L2379.6,710.4 L2378.9,713.4 L2378.2,716.4 L2377.6,719.4 L2376.9,722.4 L2376.2,725.4 L2375.6,728.4 L2374.9,731.4 L2374.3,734.4 L2373.6,737.4 L2372.9,740.4 L2372.3,743.4 L2371.6,746.4 L2371.0,749.4 L2370.3,752.4 L2369.7,755.4 L2369.0,758.4 L2368.4,761.4 L2367.7,764.4 L2367.1,767.4 L2366.4,770.4 L2365.8,773.4 L2365.1,776.4 L2364.5,779.4 L2363.8,782.4 L2363.2,785.4 L2362.5,788.4 L2361.9,791.4 L2361.2,794.4 L2360.6,797.4 L2359.9,800.4 L2359.3,803.4 L2358.7,806.4 L2358.0,809.4 L2357.4,812.4 L2356.7,815.4 L2356.1,818.4 L2355.5,821.4 L2354.8,824.4 L2354.2,827.4 L2353.5,830.4 L2352.9,833.4 L2352.3,836.4 L2351.6,839.4 L2351.0,842.4 L2350.4,845.4 L2349.7,848.4 L2349.1,851.4 L2348.5,854.4 L2347.8,857.4 L2347.2,860.4 L2346.6,863.4 L2346.0,866.4 L2345.3,869.4 L2344.7,872.4 L2344.1,875.4 L2343.4,878.4 L2342.8,881.4 L2342.2,884.4 L2341.6,887.4 L2340.9,890.4 L2340.3,893.4 L2339.7,896.4 L2339.1,899.4 L2338.5,902.4 L2337.8,905.4 L2337.2,908.4 L2336.6,911.4 L2336.0,914.4 L2335.4,917.4 L2334.8,920.4 L2334.1,923.4 L2333.5,926.4 L2332.9,929.4 L2332.3,932.4 L2331.7,935.4 L2331.1,938.4 L2330.5,941.4 L2329.8,944.4 L2329.2,947.4 L2328.6,950.4 L2328.0,953.4 L2327.4,956.4 L2326.8,959.4 L2326.2,962.4 L2325.6,965.4 L2325.0,968.4 L2324.4,971.4 L2323.8,974.4 L2323.2,977.4 L2322.6,980.4 L2322.0,983.4 L2321.4,986.4 L2320.8,989.4 L2320.2,992.4 L2319.6,995.4 L2319.0,998.4 L2318.4,1001.4 L2317.8,1004.4 L2317.2,1007.4 L2316.6,1010.4 L2316.0,1013.4 L2315.4,1016.4 L2314.8,1019.4 L2314.2,1022.4 L2313.6,1025.4 L2313.4,1026.7"/>
<path d="M2294.8,1122.9 L2294.5,1124.4 L2293.9,1127.4 L2293.3,1130.4 L2292.8,1133.4 L2292.2,1136.4 L2291.6,1139.4 L2291.1,1142.4 L2290.5,1145.4 L2289.9,1148.4 L2289.4,1151.4 L2288.8,1154.4 L2288.3,1157.4 L2287.7,1160.4 L2287.1,1163.4 L2286.6,1166.4 L2286.0,1169.4 L2285.5,1172.4 L2284.9,1175.4 L2284.3,1178.4 L2283.8,1181.4 L2283.2,1184.4 L2282.7,1187.4 L2282.1,1190.4 L2281.6,1193.4 L2281.0,1196.4 L2280.5,1199.4 L2279.9,1202.4 L2279.4,1205.4 L2278.8,1208.4 L2278.3,1211.4 L2277.7,1214.4 L2277.2,1217.4 L2276.6,1220.4 L2276.1,1223.4 L2275.5,1226.4 L2275.0,1229.4 L2274.4,1232.4 L2273.9,1235.4 L2273.4,1238.4 L2272.8,1241.4 L2272.3,1244.4 L2271.7,1247.4 L2271.2,1250.4 L2270.7,1253.4 L2270.1,1256.4 L2269.6,1259.4 L2269.0,1262.4 L2268.5,1265.4 L2268.0,1268.4 L2267.4,1271.4 L2266.9,1274.4 L2266.4,1277.4 L2265.8,1280.4 L2265.3,1283.4 L2264.8,1286.4 L2264.2,1289.4 L2263.7,1292.4 L2263.2,1295.4 L2262.6,1298.4 L2262.1,1301.4 L2261.6,1304.4 L2261.1,1307.4 L2260.5,1310.4 L2260.0,1313.4 L2259.5,1316.4 L2259.0,1319.4 L2258.4,1322.4 L2257.9,1325.4 L2257.4,1328.4 L2256.9,1331.4 L2256.4,1334.4 L2255.8,1337.4 L2255.3,1340.4 L2254.8,1343.4 L2254.3,1346.4 L2253.8,1349.4 L2253.2,1352.4 L2252.7,1355.4 L2252.2,1358.4 L2251.7,1361.4 L2251.2,1364.4 L2250.7,1367.4 L2250.2,1370.4 L2249.6,1373.4 L2249.1,1376.4 L2248.6,1379.4 L2248.1,1382.4 L2247.6,1385.4 L2247.1,1388.4 L2246.6,1391.4 L2246.1,1394.4 L2245.6,1397.4 L2245.1,1400.4 L2244.6,1403.4 L2244.1,1406.4 L2243.6,1409.4 L2243.1,1412.4 L2242.6,1415.4 L2242.1,1418.4 L2241.6,1421.4 L2241.1,1424.4 L2240.6,1427.4 L2240.1,1430.4 L2239.6,1433.4 L2239.1,1436.4 L2238.6,1439.4 L2238.1,1442.4 L2237.6,1445.4 L2237.1,1448.4 L2236.6,1451.4 L2236.1,1454.4 L2235.6,1457.4 L2235.1,1460.4 L2234.6,1463.4 L2234.1,1466.4 L2233.6,1469.4 L2233.2,1472.4 L2232.7,1475.4 L2232.2,1478.4 L2231.7,1481.4 L2231.2,1484.4 L2230.7,1487.4 L2230.2,1490.4 L2229.8,1493.4 L2229.3,1496.4 L2228.8,1499.4 L2228.3,1502.4 L2227.8,1505.4 L2227.4,1508.4 L2226.9,1511.4 L2226.4,1514.4 L2225.9,1517.4 L2225.4,1520.4 L2225.0,1523.4 L2224.5,1526.4 L2224.0,1529.4 L2223.5,1532.4 L2223.1,1535.4 L2222.6,1538.4 L2222.1,1541.4 L2221.6,1544.4 L2221.2,1547.4 L2220.7,1550.4 L2220.2,1553.4 L2219.8,1556.4 L2219.3,1559.4 L2218.8,1562.4 L2218.4,1565.4 L2217.9,1568.4 L2217.4,1571.4 L2217.0,1574.4 L2216.5,1577.4 L2216.0,1580.4 L2215.6,1583.4 L2215.1,1586.4 L2214.7,1589.4 L2214.2,1592.4 L2213.7,1595.4 L2213.3,1598.4 L2212.8,1601.4 L2212.4,1604.4 L2211.9,1607.4 L2211.5,1610.4 L2211.0,1613.4 L2210.5,1616.4 L2210.1,1619.4 L2209.6,1622.4 L2209.2,1625.4 L2208.7,1628.4 L2208.3,1631.4 L2207.8,1634.4 L2207.4,1637.4 L2206.9,1640.4 L2206.5,1643.4 L2206.0,1646.4 L2205.6,1649.4 L2205.1,1652.4 L2204.7,1655.4 L2204.2,1658.4 L2203.8,1661.4 L2203.4,1664.4 L2202.9,1667.4 L2202.5,1670.4 L2202.0,1673.4 L2201.6,1676.4 L2201.2,1679.4 L2200.7,1682.4 L2200.3,1685.4 L2199.8,1688.4 L2199.4,1691.4 L2199.0,1694.4 L2198.5,1697.4 L2198.1,1700.4 L2197.7,1703.4"/>
</g>
<g font-weight="bold" font-size="53.5" fill="#808080" text-anchor="middle">
<text transform="translate(727.4,103.1) rotate(-75.54)" dominant-baseline="central">27.4</text>
<text transform="translate(729.9,1558.0) rotate(-81.59)" dominant-baseline="central">27.5</text>
<text transform="translate(1109.7,1076.0) rotate(-79.41)" dominant-baseline="central">27.6</text>
<text transform="translate(1508.7,588.5) rotate(-77.27)" dominant-baseline="central">27.7</text>
<text transform="translate(1627.5,1536.3) rotate(-81.22)" dominant-baseline="central">27.8</text>
<text transform="translate(2225.0,103.0) rotate(-75.12)" dominant-baseline="central">27.9</text>
<text transform="translate(2302.0,1074.0) rotate(-79.05)" dominant-baseline="central">28</text>
</g>
<circle cx="1526.5" cy="903.0" r="22.8" fill="#2692ff" stroke="#1c1c1c" stroke-width="1.3"/>
<circle cx="1646.2" cy="1007.9" r="22.8" fill="#2692ff" stroke="#1c1c1c" stroke-width="1.3"/>
<circle cx="755.0" cy="1290.0" r="22.8" fill="#2692ff" stroke="#1c1c1c" stroke-width="1.3"/>
<circle cx="1405.7" cy="1237.5" r="22.8" fill="#2692ff" stroke="#1c1c1c" stroke-width="1.3"/>
<path stroke="#555" stroke-width="2.0" stroke-linecap="round" d="M1640.1,1289.5H1700.1M1670.1,1259.5V1319.5M1647.4,1266.8L1692.8,1312.2M1647.4,1312.2L1692.8,1266.8"/><circle cx="1670.9" cy="1290.1" r="5.8" fill="#000"/>
<path stroke="#555" stroke-width="2.0" stroke-linecap="round" d="M1880.9,1434.1H1940.9M1910.9,1404.1V1464.1M1888.2,1411.4L1933.6,1456.8M1888.2,1456.8L1933.6,1411.4"/><circle cx="1911.7" cy="1434.7" r="5.8" fill="#000"/>
<path stroke="#555" stroke-width="2.0" stroke-linecap="round" d="M1857.5,1479.0H1917.5M1887.5,1449.0V1509.0M1864.8,1456.3L1910.2,1501.7M1864.8,1501.7L1910.2,1456.3"/><circle cx="1888.3" cy="1479.6" r="5.8" fill="#000"/>
<path stroke="#555" stroke-width="2.0" stroke-linecap="round" d="M1905.0,1606.9H1965.0M1935.0,1576.9V1636.9M1912.3,1584.2L1957.7,1629.6M1912.3,1629.6L1957.7,1584.2"/><circle cx="1935.8" cy="1607.5" r="5.8" fill="#000"/>
<path stroke="#555" stroke-width="2.0" stroke-linecap="round" d="M1977.1,1641.5H2037.1M2007.1,1611.5V1671.5M1984.4,1618.8L2029.8,1664.2M1984.4,1664.2L2029.8,1618.8"/><circle cx="2007.9" cy="1642.1" r="5.8" fill="#000"/>
<rect x="1985.4" y="811.1" width="44.6" height="44.6" fill="#14b6ec" stroke="#1c1c1c" stroke-width="1.3"/>
<rect x="2082.2" y="837.9" width="44.6" height="44.6" fill="#14b6ec" stroke="#1c1c1c" stroke-width="1.3"/>
<rect x="2058.6" y="813.7" width="44.6" height="44.6" fill="#14b6ec" stroke="#1c1c1c" stroke-width="1.3"/>
<rect x="2153.9" y="754.9" width="44.6" height="44.6" fill="#14b6ec" stroke="#1c1c1c" stroke-width="1.3"/>
<rect x="2106.3" y="939.3" width="44.6" height="44.6" fill="#14b6ec" stroke="#1c1c1c" stroke-width="1.3"/>
<path d="M2128.1,755.2L2153.6,784.0L2128.1,812.8L2102.6,784.0Z" fill="#04d37f" stroke="#1c1c1c" stroke-width="1.3"/>
<path d="M2200.0,468.4L2225.5,497.1L2200.0,525.9L2174.5,497.1Z" fill="#04d37f" stroke="#1c1c1c" stroke-width="1.3"/>
<path d="M2248.8,521.9L2274.3,550.6L2248.8,579.4L2223.3,550.6Z" fill="#04d37f" stroke="#1c1c1c" stroke-width="1.3"/>
<path d="M2175.7,574.5L2201.2,603.2L2175.7,632.0L2150.2,603.2Z" fill="#04d37f" stroke="#1c1c1c" stroke-width="1.3"/>
<path d="M2248.9,336.6L2274.4,365.4L2248.9,394.1L2223.4,365.4Z" fill="#04d37f" stroke="#1c1c1c" stroke-width="1.3"/>
<path d="M2296.5,348.6L2322.0,377.3L2296.5,406.1L2271.0,377.3Z" fill="#04d37f" stroke="#1c1c1c" stroke-width="1.3"/>
<path d="M2244.2,122.3L2299.8,122.3L2272.0,177.6Z" fill="#ff8c00" stroke="#1c1c1c" stroke-width="1.3" stroke-linejoin="round"/>
<path d="M2268.7,114.8L2324.2,114.8L2296.4,170.1Z" fill="#ff8c00" stroke="#1c1c1c" stroke-width="1.3" stroke-linejoin="round"/>
<path d="M2244.2,109.8L2299.8,109.8L2272.0,165.1Z" fill="#ff8c00" stroke="#1c1c1c" stroke-width="1.3" stroke-linejoin="round"/>
<path d="M2196.8,137.2L2252.2,137.2L2224.5,192.5Z" fill="#ff8c00" stroke="#1c1c1c" stroke-width="1.3" stroke-linejoin="round"/>
<path d="M2317.6,91.7L2373.1,91.7L2345.3,147.0Z" fill="#ff8c00" stroke="#1c1c1c" stroke-width="1.3" stroke-linejoin="round"/>
<path d="M2340.8,171.0L2396.2,171.0L2368.5,226.3Z" fill="#ff8c00" stroke="#1c1c1c" stroke-width="1.3" stroke-linejoin="round"/>
<path d="M2172.2,333.4L2227.8,333.4L2200.0,388.7Z" fill="#ff8c00" stroke="#1c1c1c" stroke-width="1.3" stroke-linejoin="round"/>
<path d="M2293.2,442.3L2348.7,442.3L2320.9,497.6Z" fill="#ff8c00" stroke="#1c1c1c" stroke-width="1.3" stroke-linejoin="round"/>
<path d="M2172.2,878.2L2227.8,878.2L2200.0,933.5Z" fill="#ff8c00" stroke="#1c1c1c" stroke-width="1.3" stroke-linejoin="round"/>
<path d="M2268.8,842.8L2324.2,842.8L2296.5,898.1Z" fill="#ff8c00" stroke="#1c1c1c" stroke-width="1.3" stroke-linejoin="round"/>
<path d="M2175.6,275.4L2203.3,330.7L2147.8,330.7Z" fill="#e8cb00" stroke="#1c1c1c" stroke-width="1.3" stroke-linejoin="round"/>
<path d="M2224.4,269.3L2252.2,324.6L2196.7,324.6Z" fill="#e8cb00" stroke="#1c1c1c" stroke-width="1.3" stroke-linejoin="round"/>
<path d="M2224.4,281.5L2252.2,336.8L2196.7,336.8Z" fill="#e8cb00" stroke="#1c1c1c" stroke-width="1.3" stroke-linejoin="round"/>
<path d="M2248.9,280.5L2276.7,335.8L2221.2,335.8Z" fill="#e8cb00" stroke="#1c1c1c" stroke-width="1.3" stroke-linejoin="round"/>
<path d="M2248.9,244.5L2276.7,299.8L2221.2,299.8Z" fill="#e8cb00" stroke="#1c1c1c" stroke-width="1.3" stroke-linejoin="round"/>
<path d="M2296.5,565.9L2324.2,621.2L2268.8,621.2Z" fill="#e8cb00" stroke="#1c1c1c" stroke-width="1.3" stroke-linejoin="round"/>
<g stroke="#000" stroke-width="2.6" stroke-linecap="round">
<line x1="255.0" y1="35.4" x2="270.5" y2="35.4"/>
<line x1="260.0" y1="220.2" x2="270.5" y2="220.2"/>
<line x1="255.0" y1="404.9" x2="270.5" y2="404.9"/>
<line x1="260.0" y1="589.6" x2="270.5" y2="589.6"/>
<line x1="255.0" y1="774.4" x2="270.5" y2="774.4"/>
<line x1="260.0" y1="959.1" x2="270.5" y2="959.1"/>
<line x1="255.0" y1="1143.9" x2="270.5" y2="1143.9"/>
<line x1="260.0" y1="1328.7" x2="270.5" y2="1328.7"/>
<line x1="255.0" y1="1513.4" x2="270.5" y2="1513.4"/>
<line x1="260.0" y1="1698.2" x2="270.5" y2="1698.2"/>
<line x1="273.5" y1="1701.5" x2="273.5" y2="1717.0"/>
<line x1="514.4" y1="1701.5" x2="514.4" y2="1712.0"/>
<line x1="755.4" y1="1701.5" x2="755.4" y2="1717.0"/>
<line x1="996.3" y1="1701.5" x2="996.3" y2="1712.0"/>
<line x1="1237.2" y1="1701.5" x2="1237.2" y2="1717.0"/>
<line x1="1478.2" y1="1701.5" x2="1478.2" y2="1712.0"/>
<line x1="1719.1" y1="1701.5" x2="1719.1" y2="1717.0"/>
<line x1="1960.0" y1="1701.5" x2="1960.0" y2="1712.0"/>
<line x1="2200.9" y1="1701.5" x2="2200.9" y2="1717.0"/>
<line x1="2441.9" y1="1701.5" x2="2441.9" y2="1712.0"/>
</g>
<rect x="273.5" y="35.4" width="2168.4" height="1663.1" fill="none" stroke="#000" stroke-width="7.0" stroke-linejoin="round"/>
<text transform="translate(233.00,52.40)" font-weight="bold" font-style="italic" font-size="60.00" fill="#000" text-anchor="end">1</text>
<text transform="translate(231.50,421.30) scale(1.0140,1)" font-weight="bold" font-style="italic" font-size="58.45" fill="#000" text-anchor="end">0.5</text>
<text transform="translate(232.60,791.20) scale(1.0132,1)" font-weight="bold" font-style="italic" font-size="59.23" fill="#000" text-anchor="end">0</text>
<text transform="translate(230.40,1161.90) scale(1.0148,1)" font-weight="bold" font-style="italic" font-size="58.45" fill="#000" text-anchor="end">-0.5</text>
<text transform="translate(230.60,1530.80) scale(0.9518,1)" font-weight="bold" font-style="italic" font-size="62.04" fill="#000" text-anchor="end">-1</text>
<text transform="translate(272.60,1786.40) scale(0.9924,1)" font-weight="bold" font-style="italic" font-size="58.06" fill="#000" text-anchor="middle">34</text>
<text transform="translate(753.30,1786.40) scale(0.9781,1)" font-weight="bold" font-style="italic" font-size="58.06" fill="#000" text-anchor="middle">34.2</text>
<text transform="translate(1236.00,1786.40) scale(0.9907,1)" font-weight="bold" font-style="italic" font-size="58.06" fill="#000" text-anchor="middle">34.4</text>
<text transform="translate(1717.10,1786.40) scale(0.9945,1)" font-weight="bold" font-style="italic" font-size="58.06" fill="#000" text-anchor="middle">34.6</text>
<text transform="translate(2198.40,1786.40) scale(1.0033,1)" font-weight="bold" font-style="italic" font-size="58.06" fill="#000" text-anchor="middle">34.8</text>
<text transform="translate(1355.80,1870.80) scale(0.9941,1)" font-weight="bold" font-style="italic" font-size="71.42" fill="#000" text-anchor="middle">Salinity</text>
<text transform="translate(63.80,868.60) rotate(-90) scale(0.9805,1)" font-weight="bold" font-style="italic" font-size="73.49" fill="#000" text-anchor="middle">Potential Temperature θ [degC]</text>
<rect x="272.8" y="265.7" width="384.4" height="476.2" fill="#fafafa" stroke="#222" stroke-width="1.6"/>
<circle cx="366.5" cy="315.4" r="22.8" fill="#2490fc" stroke="#1c1c1c" stroke-width="1.3"/>
<path stroke="#606060" stroke-width="1.8" stroke-linecap="round" d="M336.5,390.7H396.5M366.5,360.7V420.7M343.8,368.0L389.2,413.4M343.8,413.4L389.2,368.0"/>
<circle cx="366.5" cy="390.7" r="1.6" fill="#000"/>
<rect x="344.2" y="444.6" width="44.6" height="44.6" fill="#10b5e8" stroke="#1c1c1c" stroke-width="1.3"/>
<path d="M366.5,513.2L392.0,542.0L366.5,570.8L341.0,542.0Z" fill="#04d37f" stroke="#1c1c1c" stroke-width="1.3"/>
<path d="M366.5,584.3L394.5,640.0L338.5,640.0Z" fill="#e8cb00" stroke="#1c1c1c" stroke-width="1.3" stroke-linejoin="round"/>
<path d="M338.5,671.0L394.5,671.0L366.5,727.2Z" fill="#ff8c00" stroke="#1c1c1c" stroke-width="1.3" stroke-linejoin="round"/>
<g font-weight="bold" font-style="italic" font-size="49.34" fill="#000">
<text transform="translate(469.80,330.10) scale(0.9713,1)">KB5G</text>
<text transform="translate(469.80,405.60) scale(0.9713,1)">KB5C</text>
<text transform="translate(469.80,481.10) scale(0.9713,1)">KB5</text>
<text transform="translate(469.80,556.60) scale(0.9713,1)">KB4</text>
<text transform="translate(469.80,632.10) scale(0.9713,1)">KB3/4</text>
<text transform="translate(469.80,707.60) scale(0.9713,1)">KB3</text>
</g>
<g mask="url(#mA)"><rect x="1007.0" y="47.8" width="1197.8" height="1655.1" fill="#000" fill-opacity="0.21" filter="url(#sblur)"/></g><rect x="998.0" y="38.8" width="1197.8" height="1655.1" fill="rgb(82,114,141)" fill-opacity="0.095"/><rect x="1004.4" y="45.2" width="17" height="1643.3" fill="url(#inL)"/><rect x="1004.4" y="45.2" width="1186.0" height="17" fill="url(#inT)"/><rect x="1003.9" y="44.7" width="1186.0" height="1643.3" fill="none" stroke="#fff" stroke-opacity="0.45" stroke-width="1"/><rect x="1000.7" y="41.5" width="1192.4" height="1649.7" fill="none" stroke="#808080" stroke-width="5.4"/>
<g mask="url(#mW)"><rect x="1253.1" y="1120.1" width="1197.9" height="582.8" fill="#000" fill-opacity="0.21" filter="url(#sblur)"/></g><rect x="1244.1" y="1111.1" width="1197.9" height="582.8" fill="rgb(82,114,141)" fill-opacity="0.220"/><rect x="1250.5" y="1117.5" width="17" height="571.0" fill="url(#inL)"/><rect x="1250.5" y="1117.5" width="1186.1" height="17" fill="url(#inT)"/><rect x="1250.0" y="1117.0" width="1186.1" height="571.0" fill="none" stroke="#fff" stroke-opacity="0.45" stroke-width="1"/><rect x="1246.8" y="1113.8" width="1192.5" height="577.4" fill="none" stroke="#808080" stroke-width="5.4"/>
<text transform="translate(2322.50,304.50) scale(0.9650,1)" font-weight="bold" font-style="italic" font-size="62.50" fill="#000" text-anchor="start">LW</text>
<text transform="translate(824.30,1646.50) scale(0.9562,1)" font-weight="bold" font-style="italic" font-size="62.54" fill="#000" text-anchor="start">LW</text>
<text transform="translate(1073.10,1667.40) scale(0.9559,1)" font-weight="bold" font-style="italic" font-size="63.72" fill="#000" text-anchor="start">ArW</text>
<text transform="translate(1354.50,1665.90) scale(1.0174,1)" font-weight="bold" font-style="italic" font-size="62.72" fill="#000" text-anchor="start">WCW</text>
<text transform="translate(2489.10,1550.20) rotate(-90) scale(0.9820,1)" font-weight="bold" font-style="italic" font-size="35.86" fill="#000" text-anchor="middle">Ocean Data View</text>
<text x="306" y="150" font-weight="bold" font-style="italic" font-size="108" fill="#808080">σ</text>
<text x="376" y="161.7" font-weight="bold" font-style="italic" font-size="66" fill="#808080">0</text>
</g>
</svg></body></html>
